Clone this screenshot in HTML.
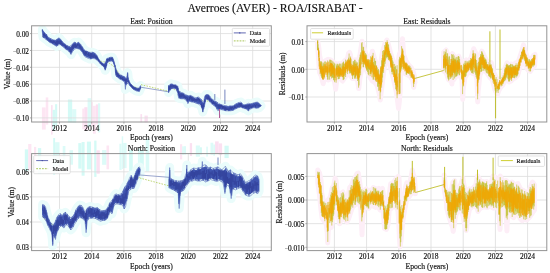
<!DOCTYPE html>
<html><head><meta charset="utf-8"><style>
html,body{margin:0;padding:0;background:#fff;width:550px;height:273px;overflow:hidden}
svg text{font-family:"Liberation Serif", serif;stroke:#111;stroke-width:0.15px}
</style></head><body>
<svg width="550" height="273" viewBox="0 0 550 273" style="position:absolute;left:0;top:0;will-change:transform">
<text x="275" y="11.7" font-size="11.65" text-anchor="middle" fill="#111">Averroes (AVER) - ROA/ISRABAT -</text>
<rect x="41.9" y="107.4" width="3.8" height="22.2" fill="#fde6f3"/><rect x="45.7" y="97.4" width="2.6" height="27.2" fill="#fde6f3"/><rect x="51.1" y="105.1" width="1.5" height="29.5" fill="#fbe0f1"/><rect x="52.6" y="109.8" width="2.5" height="21.0" fill="#d4faf6"/><rect x="55.1" y="104.2" width="2.1" height="21.4" fill="#d4faf6"/><rect x="67.9" y="99.5" width="4.3" height="22.9" fill="#d4faf6"/><rect x="72.2" y="109.2" width="4.1" height="13.5" fill="#dcfbf8"/><rect x="82.3" y="108.6" width="2.1" height="20.6" fill="#fde6f3"/><rect x="84.3" y="107.2" width="3.3" height="23.3" fill="#fbe0f1"/><rect x="87.6" y="98.2" width="3.5" height="28.8" fill="#dcfbf8"/><rect x="91.1" y="102.1" width="1.8" height="23.9" fill="#fde6f3"/><rect x="92.9" y="105.8" width="2.9" height="27.9" fill="#fde6f3"/><rect x="95.8" y="104.4" width="2.2" height="19.9" fill="#fbe0f1"/><rect x="98.0" y="103.3" width="2.2" height="29.1" fill="#dcfbf8"/>
<rect x="140.4" y="114.1" width="1.7" height="8.1" fill="#fbe0f1"/><rect x="144.5" y="115.6" width="3.3" height="6.8" fill="#fbe0f1"/>
<rect x="24.8" y="149.4" width="3.4" height="21.7" fill="#d4faf6"/><rect x="28.2" y="144.0" width="3.2" height="26.0" fill="#fde6f3"/><rect x="34.0" y="146.9" width="2.2" height="21.2" fill="#fde6f3"/><rect x="37.9" y="148.1" width="3.3" height="25.9" fill="#d4faf6"/><rect x="53.2" y="138.0" width="1.9" height="36.8" fill="#d4faf6"/><rect x="55.1" y="142.2" width="4.4" height="23.6" fill="#dcfbf8"/><rect x="62.7" y="146.0" width="2.7" height="18.3" fill="#dcfbf8"/><rect x="69.5" y="150.2" width="3.5" height="14.5" fill="#dcfbf8"/><rect x="78.3" y="143.1" width="3.2" height="25.5" fill="#d4faf6"/><rect x="81.6" y="142.0" width="3.0" height="33.7" fill="#d4faf6"/><rect x="86.9" y="141.6" width="4.1" height="27.8" fill="#d4faf6"/><rect x="94.2" y="140.6" width="2.3" height="36.3" fill="#d4faf6"/><rect x="96.5" y="150.3" width="3.3" height="23.4" fill="#fbe0f1"/><rect x="102.1" y="150.1" width="4.4" height="14.7" fill="#dcfbf8"/><rect x="106.5" y="145.5" width="2.6" height="23.8" fill="#fde6f3"/><rect x="119.4" y="143.7" width="2.2" height="26.3" fill="#dcfbf8"/><rect x="121.7" y="136.3" width="1.5" height="32.7" fill="#dcfbf8"/><rect x="123.2" y="142.9" width="3.4" height="25.2" fill="#dcfbf8"/><rect x="129.1" y="150.0" width="3.7" height="27.7" fill="#d4faf6"/><rect x="137.9" y="148.4" width="2.0" height="25.7" fill="#dcfbf8"/><rect x="139.9" y="150.3" width="3.9" height="17.7" fill="#d4faf6"/><rect x="145.7" y="138.8" width="3.5" height="32.8" fill="#dcfbf8"/>
<rect x="180.0" y="144.2" width="2.2" height="15.2" fill="#fde6f3"/><rect x="182.2" y="146.3" width="1.6" height="8.6" fill="#dcfbf8"/><rect x="183.8" y="146.2" width="2.2" height="8.3" fill="#dcfbf8"/><rect x="189.8" y="143.1" width="2.3" height="12.8" fill="#fbe0f1"/><rect x="195.8" y="145.5" width="4.1" height="11.2" fill="#dcfbf8"/><rect x="199.9" y="147.3" width="2.0" height="7.3" fill="#d4faf6"/><rect x="206.3" y="146.6" width="1.5" height="10.0" fill="#dcfbf8"/><rect x="210.5" y="142.7" width="2.8" height="12.0" fill="#dcfbf8"/><rect x="213.3" y="144.5" width="1.7" height="11.2" fill="#dcfbf8"/><rect x="215.1" y="141.4" width="3.6" height="12.5" fill="#fbe0f1"/><rect x="218.7" y="143.4" width="3.4" height="11.7" fill="#fbe0f1"/><rect x="224.5" y="145.7" width="4.2" height="12.4" fill="#d4faf6"/>
<clipPath id="cTL"><rect x="31.6" y="25.8" width="239.70000000000002" height="96.2"/></clipPath>
<path d="M59.50 25.8V122.0M91.70 25.8V122.0M123.90 25.8V122.0M156.10 25.8V122.0M188.30 25.8V122.0M220.50 25.8V122.0M252.70 25.8V122.0M31.6 33.60H271.3M31.6 50.46H271.3M31.6 67.32H271.3M31.6 84.18H271.3M31.6 101.04H271.3M31.6 117.90H271.3" stroke="#dcdcdc" stroke-width="0.8" fill="none"/>
<g clip-path="url(#cTL)"><path d="M42.4 29.5L43.6 31.6L46.7 34.7L48.0 37.2L50.5 38.5L52.9 39.7L55.4 40.3L57.9 38.5L59.2 37.8L60.4 39.1L62.3 41.6L64.2 43.4L66.6 45.3L69.1 46.5L71.0 45.9L72.9 43.4L74.7 42.2L76.6 43.4L78.5 42.2L80.3 44.1L82.2 46.5L83.5 49.0L85.9 50.9L90.0 52.4L92.5 52.2L95.0 53.4L96.8 55.3L98.7 59.1L101.2 62.2L103.7 64.1L105.6 62.2L106.8 58.5L108.7 57.8L110.5 57.2L112.4 57.2L113.7 60.3L114.9 64.7L116.2 69.5L117.4 72.0L118.8 74.0L121.7 75.5L124.7 77.0L126.8 78.5L127.3 74.0L127.6 72.6L127.9 74.0L128.3 79.0L130.5 83.6L133.4 86.5L136.4 88.0L139.3 88.2L140.6 85.5L140.6 88.5L139.3 91.6L136.4 91.0L133.4 89.4L130.5 86.5L127.6 82.8L125.7 86.0L125.4 89.4L125.1 86.0L124.7 82.0L121.7 80.0L118.8 78.4L115.9 76.0L114.9 67.2L113.0 61.6L111.2 60.9L109.3 61.6L107.4 62.2L106.2 67.2L105.2 70.3L104.3 67.2L102.5 65.9L100.0 63.4L97.5 60.5L95.0 58.7L92.5 58.5L90.0 59.0L89.1 58.5L86.6 57.5L84.7 56.5L83.5 54.5L81.6 51.0L79.1 49.0L76.6 48.4L74.7 49.0L72.9 50.9L71.0 54.6L69.8 52.2L67.3 50.3L64.8 48.4L62.9 46.5L60.4 44.7L58.5 44.7L56.7 46.5L54.2 44.7L51.7 43.4L49.2 42.2L47.3 40.3L44.8 38.5L43.0 37.2L42.4 32.2ZM168.6 85.7L171.1 83.8L173.6 84.5L176.1 85.1L177.9 86.3L178.6 90.7L181.1 92.5L183.5 93.2L186.0 95.0L188.5 95.7L191.0 95.3L193.5 97.1L196.0 97.7L198.5 97.1L201.0 98.9L203.4 102.7L204.7 96.5L205.9 94.6L208.4 94.6L210.9 97.7L213.4 100.2L215.9 101.4L218.4 103.3L220.9 104.5L223.4 105.2L225.9 105.8L228.3 106.4L230.8 105.8L233.3 105.8L235.8 103.9L238.3 102.7L240.8 102.1L243.3 104.5L245.8 104.5L248.3 103.3L250.8 103.9L253.9 102.7L257.3 102.0L259.8 103.9L261.0 105.8L261.0 105.8L259.2 107.7L257.3 108.3L253.9 107.7L250.8 108.9L248.3 110.8L245.8 108.9L243.3 108.3L240.8 107.0L238.3 107.7L235.8 108.9L233.3 110.2L230.8 110.8L228.3 110.8L225.9 110.8L223.4 110.2L220.9 109.5L217.8 110.8L215.9 107.0L213.4 105.2L210.9 103.3L208.4 100.2L205.9 98.9L204.0 108.3L203.4 109.5L202.8 112.0L202.3 109.0L201.0 106.4L198.5 103.9L196.0 103.3L194.8 102.5L192.3 102.2L189.8 101.3L188.6 102.0L187.9 103.8L187.3 102.0L186.0 100.1L183.5 98.8L181.1 98.8L178.6 98.2L177.9 93.2L176.1 88.8L173.6 88.2L171.1 88.8L168.6 92.5Z" fill="#eafcfb" stroke="#eafcfb" stroke-width="9" stroke-linejoin="round"/><path d="M42.4 36.4L43.4 36.9L44.4 37.3L45.4 37.7L46.4 38.1L47.4 38.4L48.4 38.7L49.4 39.0L50.4 39.8L51.4 40.3L52.4 40.7L53.4 41.0L54.4 41.4L55.4 41.8L56.4 42.2L57.4 42.3L58.4 42.7L59.4 43.1L60.4 43.5L61.4 43.9L62.4 44.4L63.4 44.8L64.4 45.8L65.4 46.3L66.4 46.7L67.4 46.9L68.4 47.1L69.4 47.3L70.4 47.3L71.4 47.2L72.4 47.3L73.4 47.3L74.4 47.3L75.4 47.4L76.4 47.6L77.4 47.9L78.4 48.2L79.4 48.5L80.4 48.9L81.4 49.5L82.4 50.1L83.4 50.8L84.4 51.4L85.4 52.0L86.4 52.7L87.4 53.4L88.4 54.0L89.4 54.6L90.4 55.2L91.4 55.7L92.4 56.3L93.4 56.9L94.4 57.5L95.4 58.2L96.4 58.8L97.4 59.5L98.4 60.2L99.4 60.7L100.4 61.0L101.4 61.3L102.4 61.6L103.4 61.8L104.4 61.9L105.4 61.9L106.4 62.0L107.4 62.2L108.4 62.6L109.4 63.3L110.4 64.0L111.4 64.7L112.4 65.4L113.4 66.1L114.4 67.1L115.4 68.3L116.4 69.6L117.4 70.9L118.4 72.5L119.4 74.0L120.4 75.3L121.4 76.6L122.4 77.9L123.4 78.9L124.4 79.8L125.4 80.6L126.4 81.4L127.4 82.2L128.4 83.0L129.4 83.8L130.4 84.6L131.4 85.3L132.4 86.0L133.4 86.3L134.4 86.6L135.4 87.2L136.4 87.7L137.4 88.1L138.4 88.4L139.4 88.7L140.4 88.9M168.6 87.0L169.6 87.1L170.6 87.3L171.6 88.0L172.6 88.6L173.6 89.1L174.6 89.6L175.6 90.0L176.6 90.4L177.6 91.0L178.6 91.7L179.6 92.5L180.6 93.4L181.6 94.2L182.6 95.0L183.6 95.8L184.6 96.5L185.6 97.2L186.6 97.5L187.6 97.9L188.6 98.2L189.6 98.5L190.6 98.8L191.6 99.1L192.6 99.4L193.6 99.8L194.6 100.1L195.6 100.6L196.6 101.0L197.6 101.2L198.6 101.2L199.6 101.0L200.6 100.9L201.6 100.8L202.6 100.7L203.6 100.7L204.6 100.7L205.6 100.8L206.6 101.0L207.6 101.1L208.6 101.2L209.6 101.3L210.6 101.3L211.6 101.4L212.6 101.8L213.6 102.5L214.6 103.1L215.6 103.8L216.6 104.5L217.6 105.1L218.6 105.6L219.6 106.1L220.6 106.6L221.6 106.9L222.6 107.3L223.6 107.6L224.6 107.8L225.6 107.9L226.6 107.9L227.6 107.9L228.6 107.9L229.6 107.8L230.6 107.7L231.6 107.5L232.6 107.3L233.6 107.1L234.6 106.9L235.6 106.7L236.6 106.5L237.6 106.4L238.6 106.3L239.6 106.2L240.6 106.1L241.6 106.1L242.6 106.1L243.6 106.0L244.6 106.1L245.6 106.1L246.6 106.1L247.6 106.1L248.6 106.1L249.6 106.2L250.6 106.2L251.6 106.1L252.6 106.0L253.6 105.9L254.6 105.8L255.6 105.7L256.6 105.5L257.6 105.4L258.6 105.4L259.6 105.3L260.6 105.3" stroke="#b8d26a" stroke-width="0.9" stroke-dasharray="1.6 1.2" fill="none"/><path d="M141.0 84.6L168.0 91.2" stroke="#b8d26a" stroke-width="0.9" stroke-dasharray="1.6 1.2" fill="none"/><path d="M140.6 87.2L168.6 91.8" stroke="#7080b8" stroke-width="0.7" fill="none"/><path d="M42.4 29.5V31.8M43.0 31.1V37.4M43.6 31.4V37.7M44.2 32.2V38.1M44.8 33.3V38.0M45.4 35.7V37.3M46.0 34.0V39.5M46.6 34.4V39.2M47.2 36.1V40.3M47.8 37.4V40.9M48.4 37.6V40.6M49.0 37.6V41.9M49.6 38.8V40.6M50.2 38.3V42.8M50.8 38.4V42.2M51.4 40.2V42.7M52.0 39.6V42.6M52.6 39.6V44.1M53.2 40.1V43.1M53.8 39.9V44.7M54.4 40.0V45.1M55.0 40.1V45.4M55.6 40.0V45.5M56.2 41.2V46.2M56.8 39.2V43.6M57.4 38.8V45.9M58.0 39.2V45.3M58.6 38.2V42.3M59.2 38.2V43.6M59.8 40.3V43.0M60.4 39.2V44.9M61.0 39.9V45.1M61.6 40.8V45.6M62.2 41.3V46.3M62.8 42.6V46.5M63.4 42.8V46.0M64.0 43.3V47.6M64.6 43.8V47.0M65.2 43.9V48.3M65.8 45.1V49.1M66.4 46.3V49.7M67.0 45.2V49.9M67.6 45.8V49.6M68.2 47.3V49.9M68.8 46.2V51.3M69.4 46.3V52.1M70.0 48.6V50.5M70.6 49.0V53.8M71.2 45.6V53.3M71.8 47.1V52.1M72.4 43.8V49.4M73.0 44.8V51.0M73.6 42.9V47.3M74.2 42.5V48.2M74.8 42.2V46.9M75.4 42.4V46.4M76.0 43.0V48.6M76.6 45.3V48.3M77.2 43.0V47.1M77.8 42.6V48.8M78.4 42.2V49.1M79.0 42.8V48.6M79.6 43.4V49.1M80.2 44.5V49.6M80.8 44.5V50.5M81.4 46.4V50.9M82.0 46.5V51.9M82.6 47.2V51.7M83.2 48.7V52.1M83.8 49.8V54.8M84.4 49.9V55.9M85.0 51.1V54.2M85.6 51.0V55.2M86.2 50.9V57.4M86.8 51.0V56.3M87.4 51.2V56.9M88.0 53.4V58.3M88.6 52.0V55.8M89.2 52.0V58.1M89.8 52.3V57.6M90.4 52.9V59.0M91.0 53.0V59.1M91.6 53.5V58.8M92.2 52.0V58.5M92.8 52.3V56.9M93.4 52.3V58.2M94.0 52.9V57.8M94.6 52.9V58.2M95.2 53.3V59.1M95.8 54.4V59.1M96.4 54.9V59.4M97.0 55.7V60.2M97.6 56.9V59.9M98.2 58.3V61.2M98.8 59.3V61.6M99.4 59.8V61.7M100.0 61.3V63.5M100.6 61.4V63.9M101.2 62.0V64.4M101.8 62.7V65.2M102.4 62.9V65.8M103.0 63.3V65.6M103.6 64.0V66.8M104.2 63.5V67.4M104.8 65.3V69.2M105.4 62.4V69.8M106.0 61.3V67.9M106.6 59.0V65.7M107.2 58.3V63.0M107.8 58.4V61.4M108.4 58.4V61.8M109.0 59.4V61.1M109.6 57.2V60.4M110.2 57.8V61.4M110.8 57.2V60.3M111.4 57.3V60.6M112.0 57.2V61.3M112.6 57.4V61.3M113.2 59.3V62.0M113.8 61.2V63.9M114.4 63.3V65.2M115.0 65.0V67.5M115.6 68.2V73.0M116.2 69.7V74.9M116.8 71.6V76.8M117.4 73.0V76.7M118.0 72.8V77.2M118.6 74.4V78.0M119.2 74.5V77.2M119.8 76.1V79.1M120.4 75.7V79.1M121.0 74.8V79.8M121.6 75.3V78.2M122.2 76.8V79.1M122.8 75.8V80.4M123.4 76.2V80.9M124.0 76.5V81.7M124.6 76.7V80.5M125.2 80.7V83.8M125.8 78.0V82.4M126.4 78.3V84.7M127.0 76.4V84.0M127.6 72.6V82.0M128.2 77.6V81.9M128.8 80.3V82.9M129.4 82.0V84.5M130.0 83.1V85.8M130.6 84.7V86.5M131.2 84.1V86.1M131.8 85.2V87.6M132.4 85.5V88.7M133.0 86.3V88.3M133.6 86.7V89.5M134.2 87.0V89.9M134.8 87.2V89.6M135.4 87.5V90.5M136.0 87.7V89.6M136.6 88.0V90.2M137.2 88.0V91.2M137.8 89.1V90.3M138.4 87.9V90.5M139.0 88.6V91.7M139.6 88.2V89.6M140.2 86.3V89.4M168.6 85.4V92.7M169.2 85.2V88.8M169.8 85.5V90.5M170.4 84.1V89.9M171.0 83.8V89.0M171.6 84.1V89.0M172.2 83.9V88.6M172.8 84.2V88.3M173.4 85.6V88.3M174.0 85.9V88.6M174.6 84.9V87.3M175.2 84.7V88.8M175.8 84.8V88.4M176.4 86.4V89.6M177.0 86.0V91.3M177.6 86.4V92.5M178.2 88.1V95.4M178.8 90.8V95.8M179.4 91.5V97.6M180.0 91.5V98.4M180.6 93.5V98.8M181.2 92.5V98.6M181.8 93.3V98.8M182.4 92.7V98.9M183.0 93.3V96.4M183.6 93.2V98.8M184.2 94.8V96.9M184.8 95.6V97.8M185.4 96.5V97.7M186.0 94.7V99.8M186.6 95.7V100.6M187.2 95.1V101.5M187.8 95.7V102.1M188.4 95.8V102.5M189.0 96.0V100.8M189.6 96.3V101.4M190.2 95.1V100.3M190.8 96.5V101.8M191.4 96.7V102.1M192.0 97.9V100.2M192.6 96.4V102.0M193.2 96.8V100.9M193.8 97.6V101.2M194.4 98.8V102.6M195.0 98.9V102.7M195.6 99.0V101.2M196.2 99.0V103.3M196.8 97.8V101.9M197.4 97.1V103.7M198.0 96.9V103.8M198.6 98.8V104.2M199.2 97.8V102.0M199.8 99.5V103.5M200.4 100.4V104.3M201.0 99.0V104.9M201.6 102.4V107.8M202.2 102.2V108.6M202.8 105.0V112.2M203.4 104.6V109.3M204.0 102.6V107.1M204.6 99.0V103.9M205.2 95.8V102.2M205.8 95.1V98.6M206.4 94.5V99.1M207.0 95.8V99.5M207.6 94.4V99.8M208.2 94.9V98.8M208.8 94.9V99.7M209.4 96.1V99.3M210.0 96.5V102.0M210.6 98.6V101.3M211.2 98.6V101.6M211.8 100.1V103.4M212.4 99.5V103.1M213.0 99.7V104.6M213.6 101.6V103.4M214.2 102.5V105.9M214.8 101.8V105.4M215.4 101.4V106.8M216.0 101.4V106.5M216.6 103.0V108.6M217.2 102.1V109.4M217.8 106.1V107.2M218.4 104.0V107.5M219.0 106.0V109.9M219.6 103.8V110.0M220.2 105.5V109.0M220.8 104.2V107.9M221.4 104.6V109.6M222.0 105.2V109.3M222.6 105.9V109.5M223.2 106.5V108.8M223.8 105.8V109.6M224.4 105.8V110.5M225.0 105.7V110.6M225.6 106.6V111.0M226.2 105.6V109.8M226.8 106.6V109.3M227.4 106.2V110.0M228.0 106.1V110.1M228.6 106.6V111.1M229.2 106.0V110.9M229.8 105.7V111.0M230.4 105.9V110.2M231.0 107.4V110.8M231.6 106.4V109.9M232.2 106.1V110.6M232.8 105.8V110.5M233.4 106.4V110.2M234.0 105.2V109.4M234.6 104.6V108.7M235.2 105.4V108.0M235.8 104.0V109.0M236.4 103.5V108.5M237.0 103.9V107.1M237.6 103.5V107.8M238.2 103.8V107.8M238.8 102.4V107.0M239.4 103.1V107.5M240.0 104.4V107.4M240.6 103.3V107.1M241.2 102.4V106.0M241.8 103.1V107.4M242.4 104.7V108.1M243.0 105.5V108.0M243.6 104.6V107.9M244.2 106.2V108.2M244.8 105.1V108.7M245.4 104.4V109.0M246.0 105.4V107.4M246.6 104.3V108.6M247.2 104.2V109.0M247.8 104.0V110.2M248.4 105.2V111.0M249.0 103.8V108.1M249.6 104.0V109.1M250.2 103.7V108.3M250.8 103.9V108.3M251.4 103.4V108.4M252.0 104.2V107.6M252.6 103.5V107.6M253.2 103.0V108.0M253.8 102.9V106.9M254.4 103.8V107.7M255.0 102.7V107.4M255.6 102.4V108.1M256.2 102.5V108.4M256.8 102.1V108.0M257.4 102.4V107.8M258.0 102.7V107.8M258.6 102.9V107.7M259.2 103.7V106.2M259.8 105.2V106.3M260.4 104.6V106.5M261.0 105.4V106.0" stroke="#3f55b0" stroke-width="0.8" fill="none"/><path d="M42.4 29.8L43.6 32.3L46.7 35.3L48.0 37.7L50.5 39.0L52.9 40.2L55.4 40.9L57.9 39.3L59.2 38.6L60.4 39.8L62.3 42.1L64.2 43.9L66.6 45.8L69.1 47.1L71.0 46.9L72.9 44.3L74.7 43.0L76.6 44.0L78.5 43.0L80.3 44.8L82.2 47.2L83.5 49.7L85.9 51.6L90.0 53.2L92.5 53.0L95.0 54.0L96.8 55.9L98.7 59.4L101.2 62.5L103.7 64.4L105.6 63.0L106.8 59.2L108.7 58.3L110.5 57.7L112.4 57.7L113.7 60.7L114.9 65.0L116.2 70.3L117.4 72.6L118.8 74.5L121.7 76.0L124.7 77.6L126.8 79.2L127.3 75.1L127.6 73.8L127.9 75.1L128.3 79.6L130.5 83.9L133.4 86.8L136.4 88.4L139.3 88.6L140.6 85.9L140.6 88.1L139.3 91.2L136.4 90.6L133.4 89.1L130.5 86.2L127.6 81.6L125.7 85.0L125.4 88.0L125.1 85.0L124.7 81.4L121.7 79.5L118.8 77.9L115.9 75.1L114.9 66.9L113.0 61.2L111.2 60.5L109.3 61.1L107.4 61.7L106.2 66.4L105.2 69.4L104.3 66.8L102.5 65.6L100.0 63.1L97.5 60.0L95.0 58.1L92.5 57.7L90.0 58.2L89.1 57.7L86.6 56.7L84.7 55.7L83.5 53.8L81.6 50.4L79.1 48.3L76.6 47.8L74.7 48.2L72.9 50.0L71.0 53.6L69.8 51.5L67.3 49.7L64.8 47.9L62.9 46.0L60.4 44.0L58.5 43.9L56.7 45.6L54.2 44.1L51.7 42.9L49.2 41.7L47.3 39.8L44.8 37.8L43.0 36.4L42.4 31.9ZM168.6 86.5L171.1 84.4L173.6 84.9L176.1 85.5L177.9 87.1L178.6 91.6L181.1 93.3L183.5 93.9L186.0 95.6L188.5 96.5L191.0 96.1L193.5 97.7L196.0 98.4L198.5 97.9L201.0 99.8L203.4 103.5L204.7 97.5L205.9 95.1L208.4 95.3L210.9 98.4L213.4 100.8L215.9 102.1L218.4 104.2L220.9 105.1L223.4 105.8L225.9 106.4L228.3 106.9L230.8 106.4L233.3 106.3L235.8 104.5L238.3 103.3L240.8 102.7L243.3 105.0L245.8 105.0L248.3 104.2L250.8 104.5L253.9 103.3L257.3 102.8L259.8 104.3L261.0 105.8L261.0 105.8L259.2 107.2L257.3 107.5L253.9 107.1L250.8 108.3L248.3 109.9L245.8 108.4L243.3 107.8L240.8 106.4L238.3 107.1L235.8 108.3L233.3 109.7L230.8 110.2L228.3 110.3L225.9 110.2L223.4 109.6L220.9 108.9L217.8 109.8L215.9 106.3L213.4 104.6L210.9 102.6L208.4 99.5L205.9 98.4L204.0 107.3L203.4 108.7L202.8 110.8L202.3 108.0L201.0 105.5L198.5 103.1L196.0 102.6L194.8 101.9L192.3 101.5L189.8 100.6L188.6 101.2L187.9 102.8L187.3 101.2L186.0 99.5L183.5 98.1L181.1 98.0L178.6 97.3L177.9 92.4L176.1 88.4L173.6 87.8L171.1 88.2L168.6 91.7Z" fill="#3f55b0" stroke="none"/><path d="M42.4 30.3V30.9M43.5 33.9V35.6M44.6 33.0V36.2M45.7 35.1V36.7M46.8 36.1V39.4M47.9 38.7V39.4M49.0 39.8V40.7M50.1 39.7V42.1M51.2 40.1V42.6M52.3 41.3V43.4M53.4 40.3V43.3M54.5 41.2V42.8M55.6 41.9V44.2M56.7 40.5V45.6M57.8 40.5V44.7M58.9 41.1V43.4M60.0 40.4V44.2M61.1 41.0V44.3M62.2 43.2V45.5M63.3 44.5V45.6M64.4 44.6V45.8M65.5 45.4V48.3M66.6 45.7V47.8M67.7 47.9V48.7M68.8 48.7V49.3M69.9 48.3V52.0M71.0 48.7V52.3M72.1 45.3V49.5M73.2 44.7V48.5M74.3 44.2V46.8M75.4 43.7V47.6M76.5 45.3V47.2M77.6 43.9V45.8M78.7 44.4V45.5M79.8 44.6V47.7M80.9 46.3V48.7M82.0 48.4V50.4M83.1 49.8V53.4M84.2 52.7V54.1M85.3 51.2V55.1M86.4 51.5V54.4M87.5 54.4V55.0M88.6 52.4V55.9M89.7 54.5V56.2M90.8 52.9V58.0M91.9 53.2V56.8M93.0 55.5V58.1M94.1 54.1V56.3M95.2 55.5V57.9M96.3 56.1V58.4M97.4 56.9V59.1M98.5 59.1V61.1M99.6 61.3V62.4M100.7 62.3V63.3M101.8 63.0V64.8M102.9 64.1V64.8M104.0 64.6V66.5M105.1 65.6V68.6M106.2 63.0V66.1M107.3 58.9V62.4M108.4 59.0V60.1M109.5 58.1V61.2M110.6 58.6V59.2M111.7 58.0V59.2M112.8 58.5V60.0M113.9 62.2V62.9M115.0 65.6V66.7M116.1 70.2V74.6M117.2 72.3V76.6M118.3 73.7V76.8M119.4 75.0V76.6M120.5 76.6V78.7M121.6 77.6V79.2M122.7 77.0V80.0M123.8 78.6V80.2M124.9 79.3V80.9M126.0 79.0V83.5M127.1 78.5V79.7M128.2 80.3V82.1M129.3 82.8V83.4M130.4 83.7V86.0M131.5 84.8V86.8M132.6 86.3V88.1M133.7 87.3V88.6M134.8 87.5V89.2M135.9 88.8V89.7M137.0 89.7V90.8M138.1 88.9V90.0M139.2 89.7V90.3M140.3 86.9V88.5M168.6 86.6V91.3M169.7 86.4V89.4M170.8 84.8V87.4M171.9 85.7V86.5M173.0 84.9V86.8M174.1 85.2V86.6M175.2 85.4V88.2M176.3 85.9V88.1M177.4 87.7V90.2M178.5 90.8V94.1M179.6 93.9V97.7M180.7 94.5V97.3M181.8 93.3V96.9M182.9 94.2V96.3M184.0 94.0V98.5M185.1 96.1V98.8M186.2 96.9V98.1M187.3 97.3V101.3M188.4 98.8V99.7M189.5 96.8V100.2M190.6 96.0V98.9M191.7 96.5V100.3M192.8 98.2V101.5M193.9 98.9V101.0M195.0 98.7V100.5M196.1 98.9V101.5M197.2 98.9V100.8M198.3 98.0V100.5M199.4 98.9V101.7M200.5 101.4V102.2M201.6 103.5V106.9M202.7 105.1V110.5M203.8 103.1V107.2M204.9 99.9V102.2M206.0 95.8V96.8M207.1 97.0V99.2M208.2 95.4V99.5M209.3 97.7V100.7M210.4 99.4V100.2M211.5 99.7V101.7M212.6 101.9V103.9M213.7 100.8V103.9M214.8 102.4V104.0M215.9 103.3V106.6M217.0 105.3V105.9M218.1 104.7V107.9M219.2 104.7V109.5M220.3 104.5V107.7M221.4 105.0V107.2M222.5 105.7V108.7M223.6 106.0V108.6M224.7 106.9V109.5M225.8 106.7V110.4M226.9 108.2V110.2M228.0 108.7V110.1M229.1 108.3V110.4M230.2 106.6V109.1M231.3 106.5V109.8M232.4 106.6V108.4M233.5 107.8V108.7M234.6 105.7V108.0M235.7 106.5V108.0M236.8 105.6V106.2M237.9 105.3V107.3M239.0 103.6V105.2M240.1 102.9V106.6M241.2 103.2V106.6M242.3 105.4V107.4M243.4 105.9V107.0M244.5 105.8V106.9M245.6 105.3V108.2M246.7 105.3V108.1M247.8 105.3V107.4M248.9 104.4V109.5M250.0 104.7V106.6M251.1 106.2V108.1M252.2 105.3V107.6M253.3 105.4V106.6M254.4 104.3V105.6M255.5 104.8V107.4M256.6 104.4V105.4M257.7 104.7V105.3M258.8 105.1V106.5M259.9 105.3V106.4M261.0 105.5V106.1" stroke="#2e3b94" stroke-width="0.7" fill="none"/><path d="M42.4 29.5L43.6 31.6L46.7 34.7L48.0 37.2L50.5 38.5L52.9 39.7L55.4 40.3L57.9 38.5L59.2 37.8L60.4 39.1L62.3 41.6L64.2 43.4L66.6 45.3L69.1 46.5L71.0 45.9L72.9 43.4L74.7 42.2L76.6 43.4L78.5 42.2L80.3 44.1L82.2 46.5L83.5 49.0L85.9 50.9L90.0 52.4L92.5 52.2L95.0 53.4L96.8 55.3L98.7 59.1L101.2 62.2L103.7 64.1L105.6 62.2L106.8 58.5L108.7 57.8L110.5 57.2L112.4 57.2L113.7 60.3L114.9 64.7L116.2 69.5L117.4 72.0L118.8 74.0L121.7 75.5L124.7 77.0L126.8 78.5L127.3 74.0L127.6 72.6L127.9 74.0L128.3 79.0L130.5 83.6L133.4 86.5L136.4 88.0L139.3 88.2L140.6 85.5L140.6 88.5L139.3 91.6L136.4 91.0L133.4 89.4L130.5 86.5L127.6 82.8L125.7 86.0L125.4 89.4L125.1 86.0L124.7 82.0L121.7 80.0L118.8 78.4L115.9 76.0L114.9 67.2L113.0 61.6L111.2 60.9L109.3 61.6L107.4 62.2L106.2 67.2L105.2 70.3L104.3 67.2L102.5 65.9L100.0 63.4L97.5 60.5L95.0 58.7L92.5 58.5L90.0 59.0L89.1 58.5L86.6 57.5L84.7 56.5L83.5 54.5L81.6 51.0L79.1 49.0L76.6 48.4L74.7 49.0L72.9 50.9L71.0 54.6L69.8 52.2L67.3 50.3L64.8 48.4L62.9 46.5L60.4 44.7L58.5 44.7L56.7 46.5L54.2 44.7L51.7 43.4L49.2 42.2L47.3 40.3L44.8 38.5L43.0 37.2L42.4 32.2ZM168.6 85.7L171.1 83.8L173.6 84.5L176.1 85.1L177.9 86.3L178.6 90.7L181.1 92.5L183.5 93.2L186.0 95.0L188.5 95.7L191.0 95.3L193.5 97.1L196.0 97.7L198.5 97.1L201.0 98.9L203.4 102.7L204.7 96.5L205.9 94.6L208.4 94.6L210.9 97.7L213.4 100.2L215.9 101.4L218.4 103.3L220.9 104.5L223.4 105.2L225.9 105.8L228.3 106.4L230.8 105.8L233.3 105.8L235.8 103.9L238.3 102.7L240.8 102.1L243.3 104.5L245.8 104.5L248.3 103.3L250.8 103.9L253.9 102.7L257.3 102.0L259.8 103.9L261.0 105.8L261.0 105.8L259.2 107.7L257.3 108.3L253.9 107.7L250.8 108.9L248.3 110.8L245.8 108.9L243.3 108.3L240.8 107.0L238.3 107.7L235.8 108.9L233.3 110.2L230.8 110.8L228.3 110.8L225.9 110.8L223.4 110.2L220.9 109.5L217.8 110.8L215.9 107.0L213.4 105.2L210.9 103.3L208.4 100.2L205.9 98.9L204.0 108.3L203.4 109.5L202.8 112.0L202.3 109.0L201.0 106.4L198.5 103.9L196.0 103.3L194.8 102.5L192.3 102.2L189.8 101.3L188.6 102.0L187.9 103.8L187.3 102.0L186.0 100.1L183.5 98.8L181.1 98.8L178.6 98.2L177.9 93.2L176.1 88.8L173.6 88.2L171.1 88.8L168.6 92.5Z" stroke="#3f55b0" stroke-width="0.5" fill="none" stroke-linejoin="round"/><path d="M214.8 100.0L214.8 94.0" stroke="#6878b8" stroke-width="0.9"/><path d="M224.9 104.0L224.9 89.6" stroke="#6878b8" stroke-width="0.9"/><path d="M219.5 109.0L219.5 118.0" stroke="#b0609a" stroke-width="1"/></g>
<rect x="31.6" y="25.8" width="239.70" height="96.20" fill="none" stroke="#939393" stroke-width="1.0"/>
<text x="59.50" y="130.60" font-size="7.5" text-anchor="middle" fill="#111">2012</text>
<text x="91.70" y="130.60" font-size="7.5" text-anchor="middle" fill="#111">2014</text>
<text x="123.90" y="130.60" font-size="7.5" text-anchor="middle" fill="#111">2016</text>
<text x="156.10" y="130.60" font-size="7.5" text-anchor="middle" fill="#111">2018</text>
<text x="188.30" y="130.60" font-size="7.5" text-anchor="middle" fill="#111">2020</text>
<text x="220.50" y="130.60" font-size="7.5" text-anchor="middle" fill="#111">2022</text>
<text x="252.70" y="130.60" font-size="7.5" text-anchor="middle" fill="#111">2024</text>
<text x="29.00" y="36.80" font-size="7.3" text-anchor="end" fill="#111">0.00</text>
<text x="29.00" y="53.66" font-size="7.3" text-anchor="end" fill="#111"><tspan font-size="5.6" dy="-0.9">−</tspan><tspan dy="0.9">0.02</tspan></text>
<text x="29.00" y="70.52" font-size="7.3" text-anchor="end" fill="#111"><tspan font-size="5.6" dy="-0.9">−</tspan><tspan dy="0.9">0.04</tspan></text>
<text x="29.00" y="87.38" font-size="7.3" text-anchor="end" fill="#111"><tspan font-size="5.6" dy="-0.9">−</tspan><tspan dy="0.9">0.06</tspan></text>
<text x="29.00" y="104.24" font-size="7.3" text-anchor="end" fill="#111"><tspan font-size="5.6" dy="-0.9">−</tspan><tspan dy="0.9">0.08</tspan></text>
<text x="29.00" y="121.10" font-size="7.3" text-anchor="end" fill="#111"><tspan font-size="5.6" dy="-0.9">−</tspan><tspan dy="0.9">0.10</tspan></text>
<path d="M59.50 122.0v1.6M91.70 122.0v1.6M123.90 122.0v1.6M156.10 122.0v1.6M188.30 122.0v1.6M220.50 122.0v1.6M252.70 122.0v1.6M31.6 33.60h-1.6M31.6 50.46h-1.6M31.6 67.32h-1.6M31.6 84.18h-1.6M31.6 101.04h-1.6M31.6 117.90h-1.6" stroke="#939393" stroke-width="0.8"/>
<text x="151.45" y="23.50" font-size="7.7" text-anchor="middle" fill="#111">East: Position</text>
<text x="151.45" y="140.30" font-size="7.7" text-anchor="middle" fill="#111">Epoch (years)</text>
<text transform="translate(10.1,73.90) rotate(-90)" font-size="7.7" text-anchor="middle" fill="#111">Value (m)</text>
<rect x="232.3" y="28.4" width="37.2" height="17.8" rx="1" fill="#fff" fill-opacity="0.85" stroke="#d6d6d6" stroke-width="0.7"/><path d="M233.8 32.9H245.8" stroke="#3b44a0" stroke-width="0.8"/><circle cx="239.8" cy="32.9" r="0.7" fill="#3b44a0"/><text x="249.8" y="35.0" font-size="6.1" fill="#222">Data</text><path d="M233.8 40.9H245.8" stroke="#a9c558" stroke-width="1" stroke-dasharray="1.8 1.1"/><text x="249.8" y="43.0" font-size="6.1" fill="#222">Model</text>
<clipPath id="cTR"><rect x="307.0" y="25.8" width="239.79999999999995" height="96.2"/></clipPath>
<path d="M334.40 25.8V122.0M366.60 25.8V122.0M398.80 25.8V122.0M431.00 25.8V122.0M463.20 25.8V122.0M495.40 25.8V122.0M527.60 25.8V122.0M307.0 41.60H546.8M307.0 69.30H546.8M307.0 97.00H546.8" stroke="#dcdcdc" stroke-width="0.8" fill="none"/>
<g clip-path="url(#cTR)"><path d="M317.6 40.6L318.8 47.5L319.5 55.0L320.7 60.5L322.0 63.0L323.8 62.4L325.7 60.5L328.2 59.3L330.7 60.0L332.5 61.2L334.4 63.0L336.9 64.3L338.8 63.7L340.3 64.0L342.5 63.2L345.0 60.5L347.5 58.7L348.5 53.5L349.5 52.4L350.5 55.0L351.2 59.9L352.5 62.4L355.0 59.9L357.5 62.4L360.0 54.9L362.0 41.2L363.7 47.5L366.2 54.9L368.7 57.4L371.2 56.2L372.4 51.2L374.9 59.9L377.4 64.9L379.9 67.4L382.4 52.4L384.9 43.7L386.9 40.0L388.6 45.0L391.1 54.9L393.6 62.4L396.1 67.4L397.5 64.9L399.5 53.7L401.2 50.0L402.5 38.7L403.7 54.9L406.2 61.2L408.7 64.9L411.2 67.4L413.0 71.1L414.5 76.1L415.0 82.4L414.2 84.0L413.7 87.4L413.4 85.0L412.5 79.9L410.0 76.1L407.5 74.9L405.0 73.6L402.5 69.9L400.5 72.4L400.3 90.0L399.3 102.0L398.5 108.5L397.7 102.0L396.1 91.0L393.6 79.9L391.1 69.9L388.6 59.9L386.1 57.4L383.6 72.4L381.6 89.2L381.2 92.0L380.3 100.0L379.2 93.8L377.4 86.1L374.9 82.4L372.4 81.1L369.9 77.4L367.4 72.4L364.9 67.4L362.4 66.2L360.0 77.4L359.3 84.0L358.7 88.6L358.2 85.0L357.5 79.9L355.0 78.6L352.5 78.6L350.0 74.9L347.5 73.6L345.0 77.4L342.5 81.0L340.3 78.0L338.8 78.7L336.9 79.9L336.2 85.0L335.7 89.3L335.2 86.0L334.4 81.2L332.5 77.4L330.7 78.7L328.2 79.9L326.3 77.4L324.5 78.7L323.2 83.7L321.3 76.2L319.5 72.5L318.5 58.0L317.6 45.0ZM443.6 52.4L446.1 50.0L447.9 54.9L449.9 57.4L452.4 53.7L454.9 57.4L457.0 57.4L458.7 56.2L460.5 61.2L462.5 68.7L464.5 61.2L466.2 59.9L468.7 61.2L471.2 57.4L473.7 48.7L475.4 52.4L477.4 64.9L479.9 54.9L481.9 51.2L483.7 54.9L486.2 59.9L488.7 62.4L491.2 62.4L493.7 72.4L496.1 77.4L497.9 81.1L500.6 78.8L502.7 76.7L504.9 68.2L507.0 62.9L509.1 65.0L511.2 64.0L513.4 65.0L515.5 62.9L517.6 64.0L519.7 57.6L521.8 51.2L523.5 44.9L525.0 51.2L527.2 56.5L529.3 59.7L531.4 58.7L533.5 55.5L535.0 54.4L535.0 60.0L534.6 66.1L532.5 68.2L530.3 71.4L528.2 70.3L526.1 67.2L524.0 57.6L521.8 61.8L519.7 68.2L517.6 75.6L515.5 77.8L513.4 78.8L511.2 81.0L509.1 82.0L507.0 78.8L504.9 81.0L502.7 85.2L500.6 87.3L498.6 91.1L497.4 94.8L494.9 89.9L492.4 79.9L489.9 77.4L487.4 73.6L484.9 71.1L482.4 69.9L479.9 74.9L478.1 92.0L477.7 102.0L477.4 92.0L477.0 80.0L475.0 72.4L472.5 73.6L470.0 71.1L467.5 73.6L465.0 77.4L463.1 90.0L462.7 99.5L462.4 90.0L462.0 80.0L460.0 74.9L457.5 76.1L456.1 76.1L453.6 79.9L452.3 80.0L451.9 84.0L451.5 80.0L448.6 79.9L446.1 72.4L443.6 71.1Z" fill="#fdeef7" stroke="#fdeef7" stroke-width="5" stroke-linejoin="round"/><path d="M414.5 78.5L443.6 70.5" stroke="#b9b813" stroke-width="0.8" fill="none"/><path d="M317.6 41.1V43.3M318.1 44.3V51.0M318.6 47.6V57.3M319.1 50.3V66.5M320.1 61.0V74.2M320.6 66.2V72.2M321.1 61.0V76.2M321.6 61.8V77.6M322.1 62.5V78.2M322.6 68.6V79.5M323.1 64.5V79.6M323.6 62.6V73.3M324.1 67.7V76.4M324.6 61.5V78.5M325.6 61.4V72.5M326.1 67.4V72.1M327.1 66.7V77.0M327.6 60.5V79.6M328.1 64.7V79.7M329.1 67.8V74.6M329.6 59.7V79.7M330.6 59.7V76.5M331.1 60.0V74.3M331.6 63.5V78.5M332.1 60.8V77.6M332.6 65.9V77.4M333.1 61.6V77.8M333.6 65.2V80.0M334.1 62.6V80.6M334.6 63.5V82.2M336.1 63.8V82.7M336.6 65.4V74.7M337.1 66.2V74.6M337.6 63.8V73.8M338.1 63.9V79.3M338.6 69.7V79.0M339.1 68.8V76.4M339.6 63.5V78.8M340.1 63.9V75.1M340.6 68.2V76.4M341.1 63.5V75.7M342.1 65.4V75.0M342.6 63.2V74.2M343.1 62.0V80.1M343.6 61.5V79.7M344.1 63.7V79.1M344.6 66.9V70.6M345.1 63.8V75.0M345.6 59.6V77.0M346.1 63.0V69.1M347.1 60.2V70.8M347.6 65.1V74.1M348.1 59.8V67.3M348.6 57.7V68.5M349.1 53.5V70.2M349.6 60.0V73.5M350.1 60.9V72.4M350.6 56.5V73.1M351.1 58.7V73.6M351.6 66.3V73.5M352.1 65.4V75.8M352.6 67.3V79.0M353.1 61.3V76.2M353.6 61.2V75.1M354.1 63.5V71.9M354.6 59.8V78.4M355.1 59.8V79.0M355.6 63.8V77.7M356.1 61.4V75.8M356.6 62.6V74.4M357.1 68.0V79.0M357.6 62.4V81.0M358.1 67.9V76.8M358.6 70.7V87.7M359.1 59.5V85.4M359.6 57.4V77.2M360.1 54.6V69.9M360.6 52.4V75.3M361.6 43.2V64.4M362.1 42.0V60.6M363.1 46.7V67.2M363.6 47.1V67.2M364.6 51.3V64.5M365.1 56.2V61.2M365.6 53.0V67.6M366.1 54.1V68.6M366.6 55.1V70.7M367.1 59.1V70.2M367.6 60.3V72.1M368.1 63.0V74.2M368.6 61.2V75.2M369.1 60.1V69.0M369.6 59.5V70.0M370.1 65.1V76.2M370.6 56.3V73.6M371.1 60.1V74.2M371.6 63.6V69.0M372.1 55.5V73.0M372.6 62.7V71.8M373.1 52.9V79.7M373.6 62.0V79.5M374.6 58.2V75.8M375.1 60.8V76.7M375.6 60.9V81.3M376.1 69.1V79.8M376.6 65.2V76.2M377.6 67.4V86.7M378.1 69.5V86.7M378.6 69.1V90.8M379.1 75.0V83.8M379.6 76.3V83.9M380.1 70.4V99.2M380.6 66.3V92.4M381.6 60.3V87.7M382.1 58.0V82.4M382.6 50.9V77.6M383.1 60.9V66.5M383.6 50.1V72.9M384.1 53.1V61.2M384.6 45.1V66.7M385.1 51.0V63.8M385.6 41.9V60.6M386.1 44.6V57.1M386.6 43.2V58.3M387.1 40.2V56.7M387.6 41.9V57.1M388.1 44.1V58.6M388.6 44.7V60.0M389.1 49.5V60.3M389.6 51.2V59.1M390.1 54.4V61.6M390.6 53.2V67.6M391.1 54.8V63.2M391.6 56.1V71.9M392.1 57.9V74.3M392.6 60.3V71.5M393.1 61.7V74.6M394.1 67.0V75.2M394.6 63.9V82.5M395.1 67.3V82.4M395.6 65.8V89.3M396.6 69.2V90.9M397.1 65.2V98.2M397.6 80.6V87.2M399.1 59.4V91.7M399.6 56.8V94.0M400.1 58.1V93.6M400.6 57.9V72.6M401.1 55.2V70.6M401.6 46.1V68.7M402.6 48.4V63.8M403.1 50.6V69.6M403.6 55.2V63.7M404.1 55.9V66.2M404.6 61.3V68.4M405.1 63.8V68.5M405.6 63.3V70.3M406.1 63.9V74.5M406.6 62.7V74.8M407.1 64.5V72.8M407.6 67.9V72.8M408.1 66.0V73.8M408.6 65.2V70.6M409.1 67.4V73.1M409.6 65.5V74.4M410.1 66.3V75.8M411.1 67.7V78.0M411.6 72.0V77.3M412.1 73.5V78.0M412.6 72.0V77.6M413.6 76.4V87.0M414.1 74.6V83.9M443.6 55.7V67.7M444.1 51.3V70.6M444.6 57.2V67.6M445.1 53.5V68.1M445.6 51.8V72.5M446.1 49.4V65.9M447.1 53.3V74.3M447.6 53.4V77.5M448.1 57.3V79.0M448.6 65.4V80.5M449.1 55.9V79.5M449.6 56.6V75.3M450.6 63.2V78.9M451.1 59.0V78.1M451.6 54.1V75.2M452.1 66.1V76.9M452.6 54.9V74.8M453.1 54.1V80.0M453.6 57.8V72.9M454.1 55.5V72.4M454.6 59.1V78.5M455.1 58.3V72.4M455.6 59.6V77.1M456.1 56.9V76.0M456.6 60.5V76.6M457.1 57.2V75.9M457.6 64.8V74.5M458.1 56.3V68.5M458.6 56.0V71.0M459.1 56.8V75.3M459.6 59.1V75.1M461.1 69.6V71.3M461.6 64.9V78.7M462.1 71.8V80.0M462.6 71.2V94.1M463.1 66.5V80.6M463.6 64.2V86.4M464.1 62.8V75.1M464.6 65.0V76.1M465.1 60.9V77.2M465.6 63.6V76.8M466.1 60.8V75.8M466.6 66.5V73.2M467.1 65.6V68.5M467.6 61.3V71.7M468.1 64.1V71.4M468.6 61.5V69.9M469.1 60.3V69.6M469.6 63.0V67.3M470.1 60.4V67.9M470.6 58.0V71.3M471.1 63.2V69.3M471.6 58.6V73.1M472.1 58.2V72.4M472.6 53.6V73.1M473.1 50.3V73.9M473.6 53.9V67.1M474.1 58.6V72.0M475.1 53.1V73.1M475.6 54.2V74.7M476.1 64.6V77.2M476.6 60.0V78.7M477.1 62.9V75.5M477.6 71.1V99.3M478.1 66.5V82.7M478.6 62.0V78.5M479.1 58.0V79.8M479.6 57.1V73.7M480.1 63.0V72.2M480.6 54.2V69.0M481.1 54.5V71.9M481.6 51.3V71.6M482.1 51.6V71.0M482.6 52.8V63.2M483.1 54.4V64.7M483.6 55.0V70.8M484.1 60.4V68.5M484.6 57.4V68.8M485.1 58.4V70.8M485.6 59.3V68.1M486.1 59.6V72.3M486.6 61.6V73.2M487.1 65.0V69.6M487.6 64.2V73.7M488.1 66.0V70.8M488.6 66.8V75.8M489.1 62.0V76.4M489.6 65.5V76.8M490.1 62.2V77.3M490.6 64.7V78.5M491.1 64.2V77.5M491.6 66.6V74.9M492.1 68.2V78.6M492.6 68.5V80.0M493.1 72.7V82.6M493.6 73.1V80.6M494.1 78.7V84.1M494.6 75.0V86.6M495.1 79.9V90.6M496.1 77.0V92.7M497.1 79.1V91.3M497.6 86.2V88.5M498.1 85.6V93.0M498.6 84.5V90.3M499.1 82.5V89.6M499.6 79.8V89.2M500.6 82.2V83.6M501.1 81.6V86.5M501.6 81.0V85.1M502.1 77.0V85.8M502.6 78.7V82.8M503.1 75.4V84.1M503.6 77.7V82.6M504.1 73.1V81.3M504.6 69.3V81.1M505.1 67.4V79.3M505.6 69.7V80.3M506.1 64.8V76.4M506.6 63.7V77.5M507.1 65.1V78.3M507.6 64.0V72.5M508.1 65.5V79.3M508.6 65.3V81.4M509.1 65.6V81.5M509.6 65.0V81.4M510.1 65.3V79.9M510.6 63.8V78.1M511.1 64.0V76.2M511.6 67.3V80.9M512.1 64.5V75.2M512.6 64.5V77.1M513.1 66.8V78.0M513.6 65.8V73.3M514.1 65.3V78.0M514.6 67.3V78.3M515.1 66.6V76.7M515.6 65.2V74.5M516.1 63.4V77.6M516.6 67.0V76.1M517.1 68.2V76.4M517.6 64.6V75.4M518.1 63.1V74.2M519.1 59.6V70.5M519.6 61.1V68.1M520.1 57.9V62.9M520.6 54.8V62.0M521.1 57.4V62.8M521.6 51.7V58.5M522.1 51.4V58.2M522.6 49.5V55.9M523.1 48.4V59.5M523.6 49.3V56.2M524.1 47.1V57.1M524.6 50.0V60.6M525.1 52.6V61.3M525.6 57.0V63.5M526.1 58.0V66.7M526.6 54.7V64.4M527.1 58.2V63.2M527.6 57.7V66.0M528.1 59.1V67.0M528.6 62.6V68.5M529.1 59.5V71.1M529.6 59.2V66.1M530.1 61.0V71.6M530.6 60.3V71.1M531.1 62.5V65.3M531.6 58.9V67.5M532.1 59.0V66.5M532.6 60.2V65.4M533.1 58.9V66.9M533.6 55.1V65.3M534.1 54.8V65.6M534.6 54.9V64.7" stroke="#b9b813" stroke-width="0.6" fill="none"/><path d="M489.9 62.0L489.9 31.3" stroke="#b9b813" stroke-width="0.9"/><path d="M500.0 79.0L500.0 29.5" stroke="#b9b813" stroke-width="0.9"/><path d="M495.6 88.0L495.6 118.3" stroke="#b9b813" stroke-width="0.9"/><path d="M317.7 50.0L317.7 40.3" stroke="#b9b813" stroke-width="0.9"/><path d="M317.6 42.3V43.4M318.5 48.6V54.8M318.9 51.5V60.9M319.4 58.0V69.2M320.3 62.2V70.2M320.7 63.6V73.4M321.2 65.5V71.7M321.6 68.3V74.4M322.1 66.4V74.9M322.5 66.4V78.8M323.0 69.1V77.3M323.4 68.4V79.6M323.9 66.0V74.6M324.3 64.2V77.0M325.2 65.6V72.2M325.7 64.2V74.6M326.1 66.0V72.9M326.6 62.4V71.9M327.0 66.3V75.2M327.5 66.9V73.6M327.9 62.4V71.7M328.8 61.6V72.7M329.3 67.4V72.6M329.7 64.8V71.5M330.2 63.7V71.5M330.6 62.9V76.4M331.1 63.2V71.5M331.5 63.5V75.8M332.0 63.4V73.3M332.4 64.0V73.8M332.9 65.5V74.8M333.3 67.9V72.8M333.8 66.4V74.6M334.2 68.1V77.8M334.7 67.6V76.4M335.1 69.3V77.9M336.0 68.3V80.3M336.5 67.4V75.6M337.4 68.2V77.0M337.8 67.7V75.7M338.3 65.4V75.8M338.7 65.9V73.3M339.2 68.3V76.3M339.6 67.1V76.5M340.1 67.4V73.8M340.5 67.8V74.6M341.0 69.4V77.0M341.4 69.3V75.6M341.9 68.5V75.5M342.3 66.7V77.2M342.8 69.7V77.0M343.2 66.3V73.9M343.7 66.5V76.2M344.1 63.6V75.8M344.6 67.0V73.7M345.5 62.4V72.2M345.9 65.6V73.1M346.4 62.2V69.0M346.8 60.9V69.3M347.3 62.0V71.7M347.7 59.5V68.5M348.2 60.8V70.4M349.1 59.2V71.2M349.5 60.8V71.2M350.4 57.8V69.0M350.9 63.6V71.2M351.3 66.0V72.2M351.8 64.3V75.2M352.7 64.9V74.9M353.1 66.6V74.2M353.6 65.3V75.0M354.0 66.6V71.9M354.5 67.1V71.4M354.9 62.5V74.6M355.4 66.8V76.7M355.8 66.6V73.1M356.3 64.1V75.3M357.2 66.1V73.6M357.6 66.2V77.7M358.1 67.7V78.7M358.5 69.0V79.8M359.0 65.3V78.2M359.4 63.9V72.8M359.9 62.1V73.0M360.8 54.7V68.5M362.1 51.8V59.1M362.6 50.3V62.1M363.0 51.1V64.0M363.5 51.8V61.5M363.9 50.5V62.4M364.4 54.7V63.8M364.8 56.3V62.7M365.3 54.8V64.9M365.7 56.4V66.2M366.2 58.9V64.9M366.6 61.4V69.2M367.1 60.1V65.9M367.5 61.3V66.4M368.0 59.0V67.2M368.4 59.5V68.5M369.8 63.3V69.3M370.2 62.0V74.1M370.7 65.2V72.1M371.1 59.9V71.9M371.6 57.6V71.1M372.0 57.3V77.3M372.5 55.8V69.5M373.4 63.5V74.3M373.8 64.9V74.4M374.3 66.0V77.1M374.7 65.2V73.8M375.2 68.5V80.1M375.6 68.1V77.2M376.1 65.9V76.7M376.5 66.3V81.8M377.0 72.5V79.4M377.4 70.3V79.0M377.9 71.4V81.9M378.3 74.1V81.6M378.8 73.5V83.1M379.2 77.3V83.8M379.7 74.6V90.5M380.1 74.2V86.0M380.6 67.6V91.4M381.0 72.5V85.5M381.5 66.3V84.3M382.4 64.3V72.5M382.8 54.9V71.2M383.3 57.7V68.9M384.2 50.2V61.5M384.6 51.8V61.8M385.5 46.9V54.6M386.0 46.6V54.5M386.4 43.4V51.6M386.9 41.9V51.7M387.3 46.7V56.4M387.8 48.1V54.4M388.2 50.0V55.0M388.7 47.5V57.5M389.1 51.0V56.3M389.6 53.2V59.6M390.0 54.0V60.9M390.5 55.8V64.5M390.9 55.9V66.3M391.4 57.7V67.3M391.8 63.1V67.6M392.3 64.2V71.7M393.2 64.1V71.5M393.6 68.9V77.1M394.5 70.4V80.6M395.0 73.4V79.7M395.4 74.8V84.9M395.9 74.5V82.7M396.3 73.7V85.6M396.8 69.6V89.5M397.2 76.7V94.4M399.0 73.4V94.2M399.9 61.0V82.9M400.4 58.7V71.8M400.8 58.3V65.0M401.3 56.3V67.3M401.7 53.7V62.2M402.2 51.5V60.2M402.6 49.3V66.8M403.1 54.4V61.8M403.5 57.2V68.3M404.0 60.5V69.5M404.9 62.2V71.4M405.3 63.1V69.0M405.8 62.6V70.5M406.2 65.0V71.3M406.7 63.6V72.5M407.1 63.8V72.0M407.6 67.5V73.1M408.0 65.8V73.2M408.5 66.6V73.7M409.4 67.2V72.0M410.3 68.1V73.4M411.2 70.8V76.8M411.6 70.4V76.1M412.1 70.5V75.7M412.5 73.5V78.8M413.4 74.2V83.2M413.9 75.6V81.8M414.3 77.6V81.7M443.6 59.0V68.2M444.1 55.0V65.5M444.9 54.1V65.3M445.4 57.7V67.1M445.8 59.0V69.3M446.3 59.2V65.8M446.7 56.1V65.6M447.6 62.3V73.7M448.1 59.6V72.3M448.5 64.6V70.7M449.0 65.0V77.1M449.9 65.1V72.2M450.3 65.0V75.8M450.8 65.1V76.9M451.2 59.0V76.5M451.7 62.9V71.3M452.1 61.0V70.5M452.6 60.7V75.5M453.0 59.2V72.5M453.5 60.7V71.6M453.9 61.6V71.2M454.4 60.1V72.7M454.8 64.8V74.4M455.3 59.7V72.6M455.7 61.9V70.3M456.6 63.3V69.7M457.1 62.5V71.9M457.5 60.2V72.4M458.0 60.5V68.7M458.4 62.0V73.6M458.9 61.7V69.7M459.3 63.0V68.8M459.8 62.6V69.8M460.2 65.3V72.2M461.1 65.3V73.1M461.6 68.9V73.9M462.0 70.3V79.1M462.9 70.1V83.5M463.4 72.4V85.4M463.8 70.9V82.2M464.3 64.8V77.0M465.2 64.8V72.0M465.6 65.1V72.6M466.1 63.5V69.5M466.5 65.3V72.0M467.0 62.4V72.4M467.4 63.0V68.9M467.9 64.3V71.0M468.3 64.8V69.4M468.8 63.0V70.3M469.7 64.3V68.2M470.1 61.5V67.2M470.6 60.3V70.2M471.0 62.6V67.5M471.5 59.1V69.5M471.9 60.7V69.9M472.4 56.7V65.7M472.8 60.0V69.7M473.3 56.4V64.4M473.7 52.9V64.6M474.2 55.6V68.2M475.1 59.7V68.4M475.5 59.0V70.9M476.4 66.4V71.1M476.9 67.8V73.4M477.3 70.0V86.4M477.8 74.4V93.6M478.2 65.4V80.4M478.7 66.5V78.8M479.1 61.4V75.9M479.6 63.9V74.5M480.0 57.5V68.9M480.5 56.2V68.8M481.4 57.0V64.2M481.8 58.6V64.7M482.3 55.7V67.8M482.7 55.2V65.1M483.2 58.5V64.9M483.6 57.3V68.1M484.1 61.6V68.1M484.5 59.7V69.2M485.0 60.1V67.9M485.4 62.4V69.4M485.9 62.6V67.9M486.8 64.3V69.7M487.2 64.2V69.9M487.7 65.8V69.8M488.1 65.4V72.8M488.6 67.0V71.1M489.0 64.3V74.1M489.5 65.7V74.5M489.9 64.9V71.8M490.4 68.4V72.7M490.8 65.1V72.6M491.3 66.8V73.6M491.7 69.2V75.5M492.2 70.6V77.9M492.6 72.5V79.1M493.5 73.8V81.2M494.0 74.9V83.9M494.9 79.9V84.9M495.3 78.8V88.9M495.8 82.6V85.9M496.2 81.9V88.8M497.6 85.8V88.8M498.0 84.0V88.5M498.5 84.1V88.4M498.9 82.4V88.9M499.4 81.7V85.7M499.8 80.4V85.7M500.3 81.5V84.6M500.7 81.8V83.8M501.2 79.1V85.2M501.6 80.1V83.1M502.1 80.4V83.5M502.5 78.0V83.6M503.0 78.5V81.9M503.4 76.9V81.7M503.9 76.3V79.6M504.3 74.9V77.8M504.8 73.5V78.5M505.2 71.0V77.6M505.7 67.8V75.0M506.1 68.2V74.1M506.6 67.6V73.1M507.0 65.3V74.3M507.9 68.4V75.4M508.4 66.4V74.9M508.8 71.0V78.8M509.3 70.3V75.5M509.7 67.6V77.7M510.2 68.6V74.9M510.6 67.0V74.9M511.1 67.8V79.3M511.5 67.4V78.4M512.0 67.8V77.8M512.4 70.6V76.6M512.9 67.3V77.5M513.3 66.6V75.6M513.8 69.0V73.7M514.2 66.2V74.6M514.7 66.4V75.1M515.1 68.4V74.6M515.6 67.1V75.1M516.0 65.0V75.2M516.9 67.9V74.7M517.4 68.3V73.8M517.8 66.9V70.3M518.3 65.1V70.6M518.7 62.0V70.3M519.2 61.1V68.4M519.6 59.3V65.3M520.1 58.6V65.8M520.5 57.1V61.7M521.0 56.6V61.9M521.9 52.0V59.7M522.3 52.7V58.9M522.8 51.2V56.1M523.2 50.3V57.6M523.7 47.1V54.0M524.1 50.5V56.0M524.6 50.7V58.8M525.5 53.8V63.2M525.9 56.0V63.8M526.4 57.3V63.0M526.8 57.3V66.1M527.7 60.8V64.8M528.2 61.9V68.5M528.6 61.4V66.6M529.1 63.9V68.3M529.6 63.7V67.6M530.0 62.2V67.4M530.5 62.3V68.2M530.9 61.3V68.5M531.4 62.0V68.2M531.8 60.5V66.1M532.3 60.7V65.1M532.7 58.1V64.6M533.2 58.3V63.3M533.6 57.0V63.7M534.1 58.5V65.2M534.5 58.0V63.6M535.0 55.2V59.5" stroke="#f2a600" stroke-width="0.75" fill="none"/></g>
<rect x="307.0" y="25.8" width="239.80" height="96.20" fill="none" stroke="#939393" stroke-width="1.0"/>
<text x="334.40" y="130.60" font-size="7.5" text-anchor="middle" fill="#111">2012</text>
<text x="366.60" y="130.60" font-size="7.5" text-anchor="middle" fill="#111">2014</text>
<text x="398.80" y="130.60" font-size="7.5" text-anchor="middle" fill="#111">2016</text>
<text x="431.00" y="130.60" font-size="7.5" text-anchor="middle" fill="#111">2018</text>
<text x="463.20" y="130.60" font-size="7.5" text-anchor="middle" fill="#111">2020</text>
<text x="495.40" y="130.60" font-size="7.5" text-anchor="middle" fill="#111">2022</text>
<text x="527.60" y="130.60" font-size="7.5" text-anchor="middle" fill="#111">2024</text>
<text x="304.40" y="44.80" font-size="7.3" text-anchor="end" fill="#111">0.01</text>
<text x="304.40" y="72.50" font-size="7.3" text-anchor="end" fill="#111">0.00</text>
<text x="304.40" y="100.20" font-size="7.3" text-anchor="end" fill="#111"><tspan font-size="5.6" dy="-0.9">−</tspan><tspan dy="0.9">0.01</tspan></text>
<path d="M334.40 122.0v1.6M366.60 122.0v1.6M398.80 122.0v1.6M431.00 122.0v1.6M463.20 122.0v1.6M495.40 122.0v1.6M527.60 122.0v1.6M307.0 41.60h-1.6M307.0 69.30h-1.6M307.0 97.00h-1.6" stroke="#939393" stroke-width="0.8"/>
<text x="426.90" y="23.50" font-size="7.7" text-anchor="middle" fill="#111">East: Residuals</text>
<text x="426.90" y="140.30" font-size="7.7" text-anchor="middle" fill="#111">Epoch (years)</text>
<text transform="translate(284.6,73.90) rotate(-90)" font-size="7.7" text-anchor="middle" fill="#111">Residuals (m)</text>
<rect x="310.6" y="28.5" width="42.6" height="10.7" rx="1" fill="#fff" fill-opacity="0.85" stroke="#d6d6d6" stroke-width="0.7"/><path d="M311.9 32.8H323.1" stroke="#c8c81a" stroke-width="0.9"/><text x="327.4" y="34.9" font-size="6.1" fill="#222">Residuals</text>
<clipPath id="cBL"><rect x="31.6" y="153.6" width="239.70000000000002" height="97.0"/></clipPath>
<path d="M59.50 153.6V250.6M91.70 153.6V250.6M123.90 153.6V250.6M156.10 153.6V250.6M188.30 153.6V250.6M220.50 153.6V250.6M252.70 153.6V250.6M31.6 171.80H271.3M31.6 196.90H271.3M31.6 222.00H271.3M31.6 247.10H271.3" stroke="#dcdcdc" stroke-width="0.8" fill="none"/>
<g clip-path="url(#cBL)"><path d="M42.6 204.4L44.4 205.3L45.6 207.0L46.7 212.3L47.9 216.7L49.7 221.1L51.4 223.7L53.2 224.6L54.9 222.8L56.7 217.6L58.5 214.9L60.2 213.2L62.0 215.8L63.7 213.2L65.5 212.3L67.2 214.1L69.0 216.7L70.8 217.6L72.5 216.7L74.3 214.1L76.0 209.7L77.8 207.0L79.6 205.0L81.9 205.8L83.5 208.8L85.0 211.9L86.5 209.6L88.1 207.3L90.4 206.5L92.7 207.3L95.0 208.3L97.3 207.5L99.6 209.5L101.9 211.0L104.2 210.5L106.5 209.5L108.1 206.5L109.6 203.0L111.2 201.5L112.7 199.5L114.2 195.5L115.8 193.8L117.8 194.6L119.7 194.3L121.6 193.8L123.5 190.0L124.8 187.1L126.7 184.5L128.0 181.7L129.8 177.3L131.2 175.2L132.6 178.2L134.0 177.3L135.4 173.1L136.8 169.7L138.2 167.6L139.6 166.9L140.2 169.0L140.0 174.0L138.5 177.0L137.0 181.0L135.5 185.0L133.8 188.5L131.9 188.5L130.0 190.0L128.7 191.5L127.4 197.9L126.4 202.4L125.5 206.9L124.8 208.0L124.2 209.0L123.7 208.0L122.9 205.8L121.6 204.8L119.7 204.6L117.8 204.0L115.8 204.0L113.9 206.0L111.9 214.0L110.4 211.5L108.8 215.2L107.3 218.5L105.0 220.2L102.7 220.5L100.4 221.3L98.1 220.0L95.8 218.5L93.5 218.1L91.2 218.1L88.8 218.1L87.3 221.2L86.6 227.0L86.1 232.7L85.6 227.0L85.0 221.2L83.5 219.6L81.9 218.1L79.6 217.5L77.8 218.7L76.0 222.0L74.3 224.6L72.5 228.1L70.8 229.9L69.0 227.2L67.2 224.6L65.5 225.5L63.7 228.1L62.0 225.5L60.2 226.4L58.5 229.0L56.7 233.4L56.0 236.0L55.5 239.5L55.0 238.0L53.7 235.1L53.2 238.0L52.7 245.7L52.2 238.0L51.4 232.5L49.7 229.0L47.9 225.5L46.2 221.1L44.4 218.5L42.6 216.7ZM169.2 178.0L169.7 167.6L170.1 178.0L169.9 178.0L172.4 179.5L174.9 180.5L177.4 181.0L179.9 181.0L182.4 180.5L184.4 179.0L185.5 175.0L186.4 173.0L186.8 165.0L187.2 173.0L188.6 172.0L191.1 169.5L193.6 168.0L196.1 168.5L198.0 168.0L200.5 167.5L201.9 167.0L202.3 161.5L202.7 166.0L204.0 164.8L206.0 165.0L208.0 168.0L210.5 167.0L213.0 168.5L216.3 167.4L218.0 167.0L219.6 168.2L221.7 170.0L224.2 167.5L225.4 166.2L227.9 171.2L230.4 170.0L232.9 172.4L235.4 173.7L237.9 174.9L240.4 173.7L242.9 177.4L245.4 182.4L247.9 181.2L250.4 179.9L252.9 177.4L255.4 174.9L257.9 176.2L259.1 179.9L259.1 191.1L257.9 193.6L255.4 192.4L252.9 193.6L250.4 196.1L247.9 196.1L245.4 194.9L242.9 191.1L240.4 187.4L237.9 188.7L235.4 189.9L232.9 188.7L231.7 195.0L231.2 198.6L230.7 195.0L229.2 186.2L226.7 184.9L225.4 190.0L224.9 193.6L224.4 190.0L222.9 182.4L220.4 181.2L219.6 180.5L216.3 181.4L213.0 180.3L210.5 179.5L208.0 181.0L205.5 182.0L203.0 180.0L200.5 181.0L197.3 181.0L194.9 180.0L192.4 181.0L189.9 181.0L187.9 184.0L186.1 186.5L183.6 190.5L180.4 192.0L179.7 203.0L179.2 208.6L178.7 203.0L178.2 193.0L176.1 191.5L173.7 190.0L171.2 189.0L169.2 188.0Z" fill="#eafcfb" stroke="#eafcfb" stroke-width="9" stroke-linejoin="round"/><path d="M42.6 216.5L43.6 217.7L44.6 218.8L45.6 220.2L46.6 221.0L47.6 221.7L48.6 222.3L49.6 222.5L50.6 223.4L51.6 224.1L52.6 224.6L53.6 225.1L54.6 225.3L55.6 225.3L56.6 225.2L57.6 224.9L58.6 224.4L59.6 223.7L60.6 222.8L61.6 222.2L62.6 221.7L63.6 221.3L64.6 221.1L65.6 221.0L66.6 220.9L67.6 220.8L68.6 220.6L69.6 220.2L70.6 219.7L71.6 219.1L72.6 218.5L73.6 218.1L74.6 217.6L75.6 217.1L76.6 216.6L77.6 216.2L78.6 215.9L79.6 215.6L80.6 215.0L81.6 214.5L82.6 214.1L83.6 213.8L84.6 213.7L85.6 213.6L86.6 213.7L87.6 213.8L88.6 213.9L89.6 214.0L90.6 214.1L91.6 214.1L92.6 214.0L93.6 213.8L94.6 213.6L95.6 213.7L96.6 213.9L97.6 214.1L98.6 214.3L99.6 214.4L100.6 214.4L101.6 214.2L102.6 213.9L103.6 213.5L104.6 213.1L105.6 212.5L106.6 211.7L107.6 210.7L108.6 209.6L109.6 208.5L110.6 207.4L111.6 206.3L112.6 205.2L113.6 204.2L114.6 203.2L115.6 202.3L116.6 201.5L117.6 200.8L118.6 200.1L119.6 199.2L120.6 198.1L121.6 197.0L122.6 196.0L123.6 194.9L124.6 193.8L125.6 192.7L126.6 191.6L127.6 190.4L128.6 189.0L129.6 187.5L130.6 185.8L131.6 184.1L132.6 182.2L133.6 181.3L134.6 180.3L135.6 179.6L136.6 179.0L137.6 178.4L138.6 178.0L139.6 177.4M169.2 184.6L170.2 184.8L171.2 185.0L172.2 185.9L173.2 186.1L174.2 186.1L175.2 186.1L176.2 186.0L177.2 186.1L178.2 186.0L179.2 185.8L180.2 185.4L181.2 184.9L182.2 184.4L183.2 183.7L184.2 183.0L185.2 182.2L186.2 181.4L187.2 180.0L188.2 179.1L189.2 178.3L190.2 177.5L191.2 176.8L192.2 176.1L193.2 175.6L194.2 175.2L195.2 174.7L196.2 174.4L197.2 174.2L198.2 174.0L199.2 173.9L200.2 173.8L201.2 173.8L202.2 173.8L203.2 173.7L204.2 173.7L205.2 173.6L206.2 173.6L207.2 173.6L208.2 173.6L209.2 173.7L210.2 173.8L211.2 173.9L212.2 174.0L213.2 174.1L214.2 174.3L215.2 174.4L216.2 174.5L217.2 174.8L218.2 175.2L219.2 175.4L220.2 175.6L221.2 175.9L222.2 176.2L223.2 176.6L224.2 177.3L225.2 177.8L226.2 178.3L227.2 178.7L228.2 179.2L229.2 179.6L230.2 180.0L231.2 180.4L232.2 180.6L233.2 180.7L234.2 181.0L235.2 181.3L236.2 181.8L237.2 182.3L238.2 182.8L239.2 183.1L240.2 183.5L241.2 184.0L242.2 184.5L243.2 184.9L244.2 185.3L245.2 185.6L246.2 185.8L247.2 186.0L248.2 186.3L249.2 186.4L250.2 186.5L251.2 186.5L252.2 186.5L253.2 186.4L254.2 186.2L255.2 186.0L256.2 185.7L257.2 185.4L258.2 185.1" stroke="#b8d26a" stroke-width="0.9" stroke-dasharray="1.6 1.2" fill="none"/><path d="M139.8 178.0L168.5 185.7" stroke="#b8d26a" stroke-width="0.9" stroke-dasharray="1.6 1.2" fill="none"/><path d="M140.0 175.0L169.0 177.3" stroke="#7080b8" stroke-width="0.7" fill="none"/><path d="M42.6 204.7V214.8M43.2 205.8V217.5M43.8 204.8V217.9M44.4 205.7V218.5M45.0 207.7V218.0M45.6 212.6V216.3M46.2 209.9V221.1M46.8 212.5V221.3M47.4 215.8V224.3M48.0 218.3V225.7M48.6 218.8V225.0M49.2 219.8V227.6M49.8 222.8V225.8M50.4 222.3V230.6M51.0 222.9V229.9M51.6 226.9V232.3M52.2 225.5V234.3M52.8 225.5V244.4M53.4 225.9V233.5M54.0 224.0V235.9M54.6 223.1V237.4M55.2 221.9V238.2M55.8 220.1V236.0M56.4 222.6V234.4M57.0 217.4V226.5M57.6 216.3V231.2M58.2 217.0V229.9M58.8 214.9V223.2M59.4 215.0V225.3M60.0 217.7V222.7M60.6 214.2V226.4M61.2 214.6V225.9M61.8 215.8V225.7M62.4 215.1V226.4M63.0 215.9V227.0M63.6 213.8V223.9M64.2 213.7V227.4M64.8 213.0V222.7M65.4 212.0V224.5M66.0 214.0V224.4M66.6 216.8V224.9M67.2 213.9V223.9M67.8 215.2V223.0M68.4 218.7V223.7M69.0 216.6V226.9M69.6 216.9V228.2M70.2 221.9V224.9M70.8 222.4V229.9M71.4 217.3V227.9M72.0 220.2V227.1M72.6 216.3V224.1M73.2 217.9V226.9M73.8 214.9V221.2M74.4 214.0V222.4M75.0 212.3V219.9M75.6 210.5V217.8M76.2 209.6V221.6M76.8 213.3V219.8M77.4 208.0V216.2M78.0 206.8V218.6M78.6 206.2V218.5M79.2 205.7V216.6M79.8 205.4V216.7M80.4 206.4V217.1M81.0 205.2V218.0M81.6 208.0V217.9M82.2 207.3V218.6M82.8 207.5V216.4M83.4 209.5V215.8M84.0 211.0V219.5M84.6 211.5V220.4M85.2 213.4V218.7M85.8 212.3V223.9M86.4 209.6V229.4M87.0 208.7V220.4M87.6 207.8V218.6M88.2 210.9V219.6M88.8 207.4V213.5M89.4 206.7V217.3M90.0 206.6V215.8M90.6 207.6V218.2M91.2 208.2V218.4M91.8 209.4V218.2M92.4 206.9V218.0M93.0 207.7V215.3M93.6 207.4V217.2M94.2 207.9V216.6M94.8 207.9V217.1M95.4 207.9V218.7M96.0 208.5V217.9M96.6 207.9V218.1M97.2 207.5V219.5M97.8 208.1V217.2M98.4 209.3V219.8M99.0 209.1V218.3M99.6 209.4V216.6M100.2 212.8V220.6M100.8 210.6V219.6M101.4 210.7V219.2M102.0 211.3V220.8M102.6 210.6V220.4M103.2 210.4V217.6M103.8 210.7V220.3M104.4 210.3V220.5M105.0 214.2V220.4M105.6 210.0V219.9M106.2 210.1V219.4M106.8 208.8V219.0M107.4 207.8V218.1M108.0 207.7V214.9M108.6 207.0V215.3M109.2 208.4V212.4M109.8 202.5V209.7M110.4 203.9V211.7M111.0 202.3V210.0M111.6 202.1V211.6M112.2 200.3V212.9M112.8 199.0V209.4M113.4 198.8V207.2M114.0 198.3V205.3M114.6 196.7V203.2M115.2 194.4V202.6M115.8 195.6V203.3M116.4 194.5V201.9M117.0 195.7V204.1M117.6 196.4V203.0M118.2 194.4V202.8M118.8 196.0V203.6M119.4 195.0V201.1M120.0 198.3V204.8M120.6 196.6V204.1M121.2 193.7V204.9M121.8 193.3V200.4M122.4 195.6V201.3M123.0 190.9V205.0M123.6 189.6V206.7M124.2 188.4V208.8M124.8 186.8V202.0M125.4 193.8V199.9M126.0 186.0V196.1M126.6 185.1V201.2M127.2 183.2V198.8M127.8 182.2V194.8M128.4 180.9V189.2M129.0 180.6V186.8M129.6 180.3V188.0M130.2 179.4V189.6M130.8 180.8V188.6M131.4 175.7V183.4M132.0 178.6V187.4M132.6 178.2V188.7M133.2 178.6V185.1M133.8 178.1V188.5M134.4 176.4V187.2M135.0 175.3V183.6M135.6 173.0V184.4M136.2 171.1V178.2M136.8 170.4V177.9M137.4 168.9V179.6M138.0 171.8V175.0M138.6 167.2V173.8M139.2 168.1V175.6M139.8 169.2V171.6M169.2 177.8V188.2M169.8 170.1V180.2M170.4 179.7V188.1M171.0 178.4V189.0M171.6 178.9V189.0M172.2 179.7V189.6M172.8 179.4V189.5M173.4 180.0V189.3M174.0 183.4V190.2M174.6 184.2V190.8M175.2 181.5V187.6M175.8 180.7V191.5M176.4 180.6V190.0M177.0 184.0V192.1M177.6 181.9V192.9M178.2 181.7V193.0M178.8 180.9V203.9M179.4 181.7V197.9M180.0 181.7V195.8M180.6 180.7V191.7M181.2 183.1V191.7M181.8 180.6V190.8M182.4 181.7V191.1M183.0 179.9V190.7M183.6 180.2V185.9M184.2 179.1V189.3M184.8 179.8V184.0M185.4 178.8V183.7M186.0 178.9V181.3M186.6 168.8V184.9M187.2 174.4V184.2M187.8 172.4V183.5M188.4 172.5V181.3M189.0 171.9V182.3M189.6 171.6V179.6M190.2 171.8V180.8M190.8 169.5V178.7M191.4 171.4V181.1M192.0 171.3V181.2M192.6 172.7V176.7M193.2 168.3V179.8M193.8 168.2V176.9M194.4 169.5V177.4M195.0 171.7V179.9M195.6 171.8V180.3M196.2 171.8V176.2M196.8 171.5V180.5M197.4 168.9V177.4M198.0 167.8V180.9M198.6 167.6V180.9M199.2 171.0V181.1M199.8 168.2V175.8M200.4 170.4V177.6M201.0 171.0V177.8M201.6 167.4V177.7M202.2 169.0V180.5M202.8 168.4V179.5M203.4 170.3V180.5M204.0 169.6V180.4M204.6 170.6V178.9M205.2 169.4V178.6M205.8 165.3V181.4M206.4 167.0V178.6M207.0 166.5V180.9M207.6 170.7V181.1M208.2 167.7V180.9M208.8 168.8V177.1M209.4 167.5V177.7M210.0 168.2V174.5M210.6 167.0V179.0M211.2 170.2V175.8M211.8 169.2V175.5M212.4 171.9V178.3M213.0 169.3V177.0M213.6 168.4V179.7M214.2 171.6V175.6M214.8 172.8V181.0M215.4 170.5V179.1M216.0 168.1V181.1M216.6 167.5V179.5M217.2 169.6V181.3M217.8 166.7V180.5M218.4 172.8V174.8M219.0 169.1V175.2M219.6 172.8V179.7M220.2 168.7V180.8M220.8 172.3V179.7M221.4 169.5V177.8M222.0 169.6V181.7M222.6 170.4V180.5M223.2 172.0V182.2M223.8 173.4V181.2M224.4 170.3V186.6M225.0 169.4V192.2M225.6 167.9V188.5M226.2 171.4V187.1M226.8 168.7V181.4M227.4 172.3V180.4M228.0 171.2V182.8M228.6 170.9V183.0M229.2 172.1V186.5M229.8 170.5V189.1M230.4 169.7V193.4M231.0 172.2V192.3M231.6 179.6V195.7M232.2 175.3V189.1M232.8 174.2V189.2M233.4 172.8V189.1M234.0 175.8V188.7M234.6 173.4V187.6M235.2 173.5V186.9M235.8 177.8V185.0M236.4 175.1V189.3M237.0 174.4V188.2M237.6 176.9V184.7M238.2 176.4V187.7M238.8 177.8V188.3M239.4 174.1V186.3M240.0 176.1V187.5M240.6 180.0V187.7M241.2 178.5V188.2M241.8 175.7V185.5M242.4 177.3V189.5M243.0 181.8V191.4M243.6 183.8V191.2M244.2 180.8V191.4M244.8 186.8V192.8M245.4 184.2V194.7M246.0 182.3V195.3M246.6 185.1V190.1M247.2 182.4V192.8M247.8 182.4V193.6M248.4 182.1V195.3M249.0 184.6V196.4M249.6 181.4V190.7M250.2 181.4V194.0M250.8 179.5V191.9M251.4 179.3V192.5M252.0 178.3V193.1M252.6 180.4V191.0M253.2 178.5V191.2M253.8 176.6V193.2M254.4 177.0V189.8M255.0 179.3V192.1M255.6 176.3V190.6M256.2 175.8V192.8M256.8 176.7V193.3M257.4 175.9V192.4M258.0 177.7V191.6M258.6 179.1V191.5" stroke="#3f55b0" stroke-width="0.8" fill="none"/><path d="M42.6 205.9L44.4 206.9L45.6 208.6L46.7 213.5L47.9 217.8L49.7 222.0L51.4 224.8L53.2 226.2L54.9 224.6L56.7 219.5L58.5 216.6L60.2 214.8L62.0 217.0L63.7 215.0L65.5 213.9L67.2 215.4L69.0 218.0L70.8 219.1L72.5 218.1L74.3 215.4L76.0 211.2L77.8 208.4L79.6 206.5L81.9 207.3L83.5 210.1L85.0 213.0L86.5 211.8L88.1 208.8L90.4 207.9L92.7 208.6L95.0 209.5L97.3 208.9L99.6 210.9L101.9 212.2L104.2 211.7L106.5 210.7L108.1 207.7L109.6 204.2L111.2 202.9L112.7 200.9L114.2 196.7L115.8 195.0L117.8 195.7L119.7 195.5L121.6 195.1L123.5 192.1L124.8 189.6L126.7 186.5L128.0 183.3L129.8 178.9L131.2 176.9L132.6 179.4L134.0 178.6L135.4 174.6L136.8 171.1L138.2 168.8L139.6 167.8L140.2 169.6L140.0 173.3L138.5 175.9L137.0 179.6L135.5 183.5L133.8 187.2L131.9 187.1L130.0 188.4L128.7 190.1L127.4 196.1L126.4 200.3L125.5 204.4L124.8 205.5L124.2 206.5L123.7 205.8L122.9 204.0L121.6 203.5L119.7 203.4L117.8 202.9L115.8 202.8L113.9 204.8L111.9 212.4L110.4 210.4L108.8 214.0L107.3 217.2L105.0 219.0L102.7 219.3L100.4 219.9L98.1 218.6L95.8 217.2L93.5 216.8L91.2 216.7L88.8 216.8L87.3 219.7L86.6 224.9L86.1 230.0L85.6 225.1L85.0 220.1L83.5 218.3L81.9 216.6L79.6 216.0L77.8 217.3L76.0 220.5L74.3 223.3L72.5 226.7L70.8 228.4L69.0 225.9L67.2 223.3L65.5 223.9L63.7 226.3L62.0 224.3L60.2 224.8L58.5 227.3L56.7 231.5L56.0 234.0L55.5 237.3L55.0 236.1L53.7 233.8L53.2 236.4L52.7 243.1L52.2 236.3L51.4 231.4L49.7 228.1L47.9 224.4L46.2 219.8L44.4 216.9L42.6 215.2ZM169.2 179.2L169.7 170.1L170.1 179.3L169.9 179.2L172.4 180.7L174.9 181.7L177.4 182.4L179.9 183.3L182.4 181.8L184.4 180.2L185.5 176.5L186.4 174.6L186.8 167.5L187.2 174.4L188.6 173.3L191.1 170.9L193.6 169.5L196.1 169.9L198.0 169.6L200.5 169.1L201.9 168.6L202.3 163.8L202.7 167.7L204.0 166.7L206.0 167.0L208.0 169.6L210.5 168.5L213.0 169.9L216.3 169.1L218.0 168.7L219.6 169.7L221.7 171.4L224.2 170.1L225.4 169.1L227.9 172.9L230.4 172.8L232.9 174.4L235.4 175.6L237.9 176.6L240.4 175.3L242.9 179.0L245.4 183.9L247.9 183.0L250.4 181.8L252.9 179.3L255.4 177.0L257.9 178.3L259.1 181.2L259.1 189.8L257.9 191.5L255.4 190.3L252.9 191.7L250.4 194.2L247.9 194.3L245.4 193.4L242.9 189.5L240.4 185.8L237.9 187.0L235.4 188.0L232.9 186.7L231.7 192.1L231.2 195.3L230.7 192.0L229.2 184.3L226.7 183.0L225.4 187.1L224.9 190.4L224.4 187.3L222.9 180.8L220.4 179.7L219.6 179.0L216.3 179.7L213.0 178.9L210.5 178.0L208.0 179.4L205.5 180.0L203.0 178.3L200.5 179.4L197.3 179.5L194.9 178.6L192.4 179.5L189.9 179.8L187.9 182.6L186.1 185.0L183.6 189.2L180.4 190.7L179.7 200.4L179.2 205.3L178.7 200.4L178.2 191.6L176.1 190.2L173.7 188.8L171.2 187.8L169.2 186.8Z" fill="#3f55b0" stroke="none"/><path d="M42.6 207.7V210.8M43.7 209.9V213.6M44.8 206.7V214.2M45.9 211.5V215.4M47.0 215.6V222.4M48.1 221.0V222.8M49.2 223.8V225.7M50.3 224.6V229.5M51.4 226.0V231.5M52.5 231.8V241.6M53.6 225.0V233.4M54.7 225.9V231.1M55.8 225.1V232.9M56.9 219.7V231.0M58.0 219.7V228.8M59.1 220.6V225.6M60.2 217.0V225.6M61.3 216.8V224.1M62.4 219.2V225.1M63.5 220.0V223.7M64.6 215.7V220.0M65.7 215.1V223.6M66.8 214.6V220.1M67.9 219.5V221.4M69.0 221.6V223.0M70.1 221.1V228.0M71.2 221.2V226.3M72.3 218.0V224.1M73.4 217.7V223.3M74.5 216.1V220.3M75.6 212.7V220.4M76.7 213.2V218.0M77.8 209.1V213.2M78.9 209.5V211.7M80.0 207.2V213.9M81.1 208.7V214.3M82.2 211.0V215.6M83.3 211.4V218.8M84.4 215.7V218.1M85.5 213.0V222.1M86.6 210.5V219.0M87.7 214.0V214.6M88.8 207.8V213.9M89.9 210.5V213.5M91.0 207.6V216.7M92.1 208.7V215.0M93.2 212.7V217.4M94.3 209.9V214.0M95.4 211.9V216.7M96.5 210.8V216.2M97.6 208.8V215.6M98.7 210.1V218.7M99.8 214.1V219.1M100.9 213.2V218.2M102.0 212.0V219.6M103.1 212.5V216.0M104.2 212.6V219.2M105.3 213.9V218.2M106.4 213.3V217.7M107.5 209.1V217.5M108.6 207.9V211.0M109.7 204.2V212.3M110.8 205.8V207.1M111.9 202.9V207.7M113.0 199.7V205.0M114.1 199.1V201.8M115.2 195.8V200.3M116.3 195.5V201.8M117.4 195.6V203.3M118.5 195.3V201.8M119.6 195.8V199.8M120.7 198.0V203.4M121.8 198.6V203.4M122.9 194.1V204.0M124.0 196.7V203.8M125.1 193.3V198.3M126.2 187.6V198.9M127.3 188.4V191.0M128.4 186.0V190.0M129.5 184.1V184.7M130.6 177.0V187.9M131.7 177.0V185.9M132.8 179.8V187.0M133.9 179.5V185.1M135.0 175.1V182.8M136.1 175.6V179.6M137.2 174.6V179.5M138.3 170.0V173.7M139.4 171.0V171.9M169.2 179.2V186.3M170.3 180.8V186.0M171.4 180.4V185.6M172.5 183.0V185.1M173.6 181.3V186.2M174.7 181.7V186.0M175.8 182.0V190.6M176.9 182.4V189.0M178.0 184.2V189.3M179.1 183.3V195.3M180.2 185.8V193.7M181.3 184.5V189.3M182.4 181.5V187.9M183.5 181.7V186.0M184.6 179.1V187.9M185.7 178.7V185.5M186.8 171.5V177.1M187.9 175.7V182.8M189.0 176.4V178.0M190.1 172.7V178.8M191.2 170.6V176.1M192.3 170.0V177.8M193.4 171.6V179.2M194.5 172.1V177.0M195.6 171.1V175.6M196.7 171.0V176.9M197.8 170.9V175.2M198.9 169.4V174.6M200.0 169.7V175.3M201.1 172.5V174.1M202.2 171.0V178.9M203.3 170.7V178.9M204.4 169.5V178.3M205.5 173.0V178.5M206.6 170.0V173.8M207.7 174.0V180.2M208.8 169.6V179.2M209.9 171.5V178.7M211.0 172.5V174.4M212.1 171.1V175.6M213.2 173.9V179.0M214.3 169.1V177.3M215.4 171.4V175.8M216.5 172.1V180.5M217.6 173.6V174.2M218.7 170.3V176.0M219.8 170.2V179.4M220.9 170.0V177.1M222.0 170.4V176.2M223.1 170.7V179.7M224.2 170.6V182.5M225.3 172.5V186.8M226.4 171.1V185.0M227.5 176.9V183.5M228.6 178.5V183.9M229.7 178.2V188.0M230.8 173.8V187.0M231.9 174.3V190.2M233.0 175.0V181.9M234.1 180.7V184.8M235.2 176.6V184.6M236.3 181.4V186.4M237.4 181.4V182.0M238.5 180.8V187.0M239.6 177.1V181.4M240.7 176.0V186.4M241.8 177.5V188.1M242.9 182.9V190.1M244.0 184.4V188.3M245.1 185.6V189.2M246.2 184.0V193.5M247.3 184.5V192.0M248.4 184.6V189.6M249.5 182.4V194.3M250.6 182.4V188.1M251.7 186.1V192.9M252.8 183.2V191.5M253.9 184.5V188.8M255.0 181.0V185.8M256.1 182.6V191.4M257.2 182.1V185.4M258.3 184.0V185.2" stroke="#2e3b94" stroke-width="0.7" fill="none"/><path d="M42.6 204.4L44.4 205.3L45.6 207.0L46.7 212.3L47.9 216.7L49.7 221.1L51.4 223.7L53.2 224.6L54.9 222.8L56.7 217.6L58.5 214.9L60.2 213.2L62.0 215.8L63.7 213.2L65.5 212.3L67.2 214.1L69.0 216.7L70.8 217.6L72.5 216.7L74.3 214.1L76.0 209.7L77.8 207.0L79.6 205.0L81.9 205.8L83.5 208.8L85.0 211.9L86.5 209.6L88.1 207.3L90.4 206.5L92.7 207.3L95.0 208.3L97.3 207.5L99.6 209.5L101.9 211.0L104.2 210.5L106.5 209.5L108.1 206.5L109.6 203.0L111.2 201.5L112.7 199.5L114.2 195.5L115.8 193.8L117.8 194.6L119.7 194.3L121.6 193.8L123.5 190.0L124.8 187.1L126.7 184.5L128.0 181.7L129.8 177.3L131.2 175.2L132.6 178.2L134.0 177.3L135.4 173.1L136.8 169.7L138.2 167.6L139.6 166.9L140.2 169.0L140.0 174.0L138.5 177.0L137.0 181.0L135.5 185.0L133.8 188.5L131.9 188.5L130.0 190.0L128.7 191.5L127.4 197.9L126.4 202.4L125.5 206.9L124.8 208.0L124.2 209.0L123.7 208.0L122.9 205.8L121.6 204.8L119.7 204.6L117.8 204.0L115.8 204.0L113.9 206.0L111.9 214.0L110.4 211.5L108.8 215.2L107.3 218.5L105.0 220.2L102.7 220.5L100.4 221.3L98.1 220.0L95.8 218.5L93.5 218.1L91.2 218.1L88.8 218.1L87.3 221.2L86.6 227.0L86.1 232.7L85.6 227.0L85.0 221.2L83.5 219.6L81.9 218.1L79.6 217.5L77.8 218.7L76.0 222.0L74.3 224.6L72.5 228.1L70.8 229.9L69.0 227.2L67.2 224.6L65.5 225.5L63.7 228.1L62.0 225.5L60.2 226.4L58.5 229.0L56.7 233.4L56.0 236.0L55.5 239.5L55.0 238.0L53.7 235.1L53.2 238.0L52.7 245.7L52.2 238.0L51.4 232.5L49.7 229.0L47.9 225.5L46.2 221.1L44.4 218.5L42.6 216.7ZM169.2 178.0L169.7 167.6L170.1 178.0L169.9 178.0L172.4 179.5L174.9 180.5L177.4 181.0L179.9 181.0L182.4 180.5L184.4 179.0L185.5 175.0L186.4 173.0L186.8 165.0L187.2 173.0L188.6 172.0L191.1 169.5L193.6 168.0L196.1 168.5L198.0 168.0L200.5 167.5L201.9 167.0L202.3 161.5L202.7 166.0L204.0 164.8L206.0 165.0L208.0 168.0L210.5 167.0L213.0 168.5L216.3 167.4L218.0 167.0L219.6 168.2L221.7 170.0L224.2 167.5L225.4 166.2L227.9 171.2L230.4 170.0L232.9 172.4L235.4 173.7L237.9 174.9L240.4 173.7L242.9 177.4L245.4 182.4L247.9 181.2L250.4 179.9L252.9 177.4L255.4 174.9L257.9 176.2L259.1 179.9L259.1 191.1L257.9 193.6L255.4 192.4L252.9 193.6L250.4 196.1L247.9 196.1L245.4 194.9L242.9 191.1L240.4 187.4L237.9 188.7L235.4 189.9L232.9 188.7L231.7 195.0L231.2 198.6L230.7 195.0L229.2 186.2L226.7 184.9L225.4 190.0L224.9 193.6L224.4 190.0L222.9 182.4L220.4 181.2L219.6 180.5L216.3 181.4L213.0 180.3L210.5 179.5L208.0 181.0L205.5 182.0L203.0 180.0L200.5 181.0L197.3 181.0L194.9 180.0L192.4 181.0L189.9 181.0L187.9 184.0L186.1 186.5L183.6 190.5L180.4 192.0L179.7 203.0L179.2 208.6L178.7 203.0L178.2 193.0L176.1 191.5L173.7 190.0L171.2 189.0L169.2 188.0Z" stroke="#3f55b0" stroke-width="0.5" fill="none" stroke-linejoin="round"/><path d="M218.0 165.0L218.0 157.5" stroke="#6878b8" stroke-width="0.9"/></g>
<rect x="31.6" y="153.6" width="239.70" height="97.00" fill="none" stroke="#939393" stroke-width="1.0"/>
<text x="59.50" y="259.20" font-size="7.5" text-anchor="middle" fill="#111">2012</text>
<text x="91.70" y="259.20" font-size="7.5" text-anchor="middle" fill="#111">2014</text>
<text x="123.90" y="259.20" font-size="7.5" text-anchor="middle" fill="#111">2016</text>
<text x="156.10" y="259.20" font-size="7.5" text-anchor="middle" fill="#111">2018</text>
<text x="188.30" y="259.20" font-size="7.5" text-anchor="middle" fill="#111">2020</text>
<text x="220.50" y="259.20" font-size="7.5" text-anchor="middle" fill="#111">2022</text>
<text x="252.70" y="259.20" font-size="7.5" text-anchor="middle" fill="#111">2024</text>
<text x="29.00" y="175.00" font-size="7.3" text-anchor="end" fill="#111">0.06</text>
<text x="29.00" y="200.10" font-size="7.3" text-anchor="end" fill="#111">0.05</text>
<text x="29.00" y="225.20" font-size="7.3" text-anchor="end" fill="#111">0.04</text>
<text x="29.00" y="250.30" font-size="7.3" text-anchor="end" fill="#111">0.03</text>
<path d="M59.50 250.6v1.6M91.70 250.6v1.6M123.90 250.6v1.6M156.10 250.6v1.6M188.30 250.6v1.6M220.50 250.6v1.6M252.70 250.6v1.6M31.6 171.80h-1.6M31.6 196.90h-1.6M31.6 222.00h-1.6M31.6 247.10h-1.6" stroke="#939393" stroke-width="0.8"/>
<text x="151.45" y="151.30" font-size="7.7" text-anchor="middle" fill="#111">North: Position</text>
<text x="151.45" y="268.90" font-size="7.7" text-anchor="middle" fill="#111">Epoch (years)</text>
<text transform="translate(13.7,202.10) rotate(-90)" font-size="7.7" text-anchor="middle" fill="#111">Value (m)</text>
<rect x="33.7" y="155.6" width="36.5" height="18.1" rx="1" fill="#fff" fill-opacity="0.85" stroke="#d6d6d6" stroke-width="0.7"/><path d="M36.2 160.6H48.1" stroke="#3b44a0" stroke-width="0.8"/><circle cx="42.2" cy="160.6" r="0.7" fill="#3b44a0"/><text x="52.4" y="162.7" font-size="6.1" fill="#222">Data</text><path d="M36.2 168.7H48.1" stroke="#a9c558" stroke-width="1" stroke-dasharray="1.8 1.1"/><text x="52.4" y="170.8" font-size="6.1" fill="#222">Model</text>
<clipPath id="cBR"><rect x="307.0" y="153.6" width="239.79999999999995" height="97.0"/></clipPath>
<path d="M334.40 153.6V250.6M366.60 153.6V250.6M398.80 153.6V250.6M431.00 153.6V250.6M463.20 153.6V250.6M495.40 153.6V250.6M527.60 153.6V250.6M307.0 176.40H546.8M307.0 200.03H546.8M307.0 223.67H546.8M307.0 247.30H546.8" stroke="#dcdcdc" stroke-width="0.8" fill="none"/>
<g clip-path="url(#cBR)"><path d="M317.8 170.0L319.5 172.8L321.0 180.1L321.7 193.0L323.2 200.3L325.0 203.0L326.8 201.2L328.7 199.4L330.5 196.6L332.3 187.5L333.8 185.6L335.1 178.3L336.0 180.1L336.9 189.3L337.8 196.6L339.6 199.4L341.5 193.0L342.9 192.0L344.2 196.6L346.0 199.4L347.9 196.6L349.7 187.5L351.5 185.6L353.4 180.1L355.2 177.4L357.0 173.7L358.3 173.2L359.4 180.1L360.7 189.3L362.5 191.1L364.4 190.2L366.2 189.0L367.8 192.0L369.7 190.2L371.5 191.1L373.3 187.5L375.2 188.4L377.0 189.3L378.8 188.4L380.7 190.2L382.5 188.4L383.4 194.8L384.3 204.0L386.1 207.6L388.0 204.0L388.9 196.6L390.7 183.8L392.6 182.9L394.4 181.1L396.2 178.3L398.1 176.5L399.0 177.4L399.9 198.5L401.7 205.8L403.5 202.1L405.4 187.5L406.7 182.9L408.1 187.5L410.0 182.0L411.4 175.6L412.3 170.0L413.3 174.7L414.5 177.4L415.3 190.0L415.3 193.7L413.7 192.4L411.2 193.7L408.7 197.4L406.2 201.1L405.5 205.7L404.0 213.3L402.6 222.9L401.3 238.1L400.1 246.7L399.4 238.1L398.8 222.9L397.9 210.0L396.2 207.4L393.7 204.9L391.2 208.6L389.3 209.5L388.0 224.8L386.4 229.5L384.5 228.6L383.6 215.2L382.5 206.1L380.0 209.9L378.1 206.1L375.6 207.4L373.1 206.1L370.6 204.9L369.0 208.2L366.2 207.3L363.5 209.2L362.5 222.0L362.0 234.8L361.5 222.0L360.7 207.3L358.0 201.8L356.1 203.7L354.3 205.5L352.5 207.3L350.6 212.8L348.8 218.3L347.0 222.0L345.1 220.1L343.3 218.3L341.5 220.1L340.0 221.5L339.6 223.8L339.3 222.0L338.7 218.3L336.9 211.0L335.1 203.7L333.2 218.3L331.9 224.0L331.4 227.5L330.9 225.0L329.6 222.0L328.2 232.0L327.7 243.0L327.2 232.0L325.9 222.0L324.1 221.0L322.2 218.3L321.0 210.0L319.5 195.0L317.8 183.0ZM444.2 175.0L445.5 188.0L447.3 191.6L449.2 192.5L451.0 191.6L452.8 182.5L454.7 180.6L455.6 191.6L457.4 194.4L459.2 188.0L461.1 183.4L462.9 178.0L463.8 184.3L465.6 191.6L467.5 190.7L469.3 188.9L471.1 189.8L473.0 188.0L475.7 185.2L477.5 176.0L479.4 178.8L481.2 182.5L483.0 181.6L484.9 182.5L486.7 181.6L488.5 184.3L490.4 185.2L493.1 176.0L494.9 177.0L496.6 185.0L497.3 182.0L500.3 176.1L503.2 182.0L506.1 180.5L509.1 183.5L512.0 182.0L514.9 184.9L517.9 183.5L520.8 189.3L523.7 190.8L526.7 193.7L529.6 189.3L532.5 182.0L534.6 184.9L534.6 209.9L532.5 212.8L529.6 217.2L526.7 220.1L524.0 218.5L522.3 220.7L520.1 218.5L517.9 212.6L515.7 214.0L513.5 217.7L512.0 216.3L509.8 213.3L508.3 209.7L507.4 220.0L506.9 230.9L506.4 220.0L505.4 208.9L503.2 206.0L501.0 209.7L500.5 220.0L500.0 229.5L499.5 220.0L498.1 208.9L495.9 206.7L493.7 208.2L492.2 207.5L490.0 203.8L487.5 207.6L483.7 206.7L479.9 208.6L478.0 211.4L477.0 207.6L474.2 205.7L471.3 207.6L469.4 209.5L467.5 219.0L466.7 228.0L466.2 230.5L465.7 228.0L464.7 224.8L462.8 215.2L460.9 211.4L459.0 209.5L457.0 211.4L455.1 219.0L453.7 228.0L453.2 231.4L452.7 228.0L450.4 221.0L448.5 215.2L446.6 207.6L446.6 203.0L444.2 189.9Z" fill="#fdeef7" stroke="#fdeef7" stroke-width="5" stroke-linejoin="round"/><path d="M415.3 192.5L444.4 184.5" stroke="#b9b813" stroke-width="0.8" fill="none"/><path d="M317.8 171.6V178.1M318.3 172.3V184.4M318.8 173.4V187.1M319.3 171.9V193.3M320.3 182.0V203.8M320.8 191.2V202.9M321.3 185.2V212.9M321.8 192.9V215.8M322.3 195.3V216.8M322.8 204.8V217.1M323.3 202.2V216.4M323.8 201.3V211.9M324.3 207.9V217.1M324.8 202.6V221.2M325.8 203.1V215.7M326.3 211.3V217.7M327.3 213.0V231.7M327.8 202.1V241.9M328.3 208.0V231.1M329.3 209.2V217.8M329.8 197.7V223.1M330.8 194.6V221.2M331.3 192.1V219.2M331.8 195.9V225.5M332.3 187.2V222.1M332.8 196.2V219.6M333.3 186.0V216.1M333.8 190.3V214.4M334.3 182.6V209.8M334.8 180.6V205.7M336.3 183.1V204.9M336.8 189.8V201.4M337.3 195.1V206.0M337.8 196.3V208.0M338.3 197.4V216.9M338.8 206.3V219.2M339.3 206.9V218.7M339.8 198.1V223.4M340.3 197.0V216.2M340.8 202.9V217.2M341.3 193.3V214.5M342.3 195.7V210.7M342.8 192.3V208.8M343.3 192.7V218.2M343.8 194.5V219.2M344.3 199.6V219.8M344.8 205.3V210.2M345.3 202.7V217.4M345.8 198.5V221.4M346.3 203.6V212.0M347.3 199.4V216.0M347.8 207.4V221.0M348.3 200.3V210.4M348.8 197.5V211.2M349.3 190.3V211.4M349.8 196.7V213.8M350.3 195.7V210.3M350.8 187.4V208.8M351.3 185.1V206.6M351.8 193.1V203.8M352.3 188.9V204.6M352.8 189.6V207.7M353.3 179.6V202.8M353.8 179.4V200.6M354.3 182.8V195.4M354.8 177.2V204.6M355.3 176.9V204.9M355.8 181.2V202.2M356.3 175.7V198.3M356.8 175.8V194.9M357.3 183.5V201.3M357.8 173.9V202.6M358.3 182.1V193.2M358.8 187.3V203.2M359.3 181.2V204.3M359.8 184.1V201.9M360.3 186.8V200.3M360.8 190.7V209.7M361.8 189.3V221.4M362.3 191.5V217.3M363.3 192.2V212.4M363.8 190.4V209.4M364.8 191.1V205.3M365.3 194.8V200.4M365.8 189.1V206.1M366.3 188.6V205.9M366.8 189.9V207.4M367.3 194.4V206.0M367.8 195.9V207.1M368.3 197.5V208.4M368.8 194.8V208.5M369.3 193.3V201.3M369.8 192.3V201.0M370.3 196.5V204.4M370.8 190.6V201.9M371.3 193.4V202.1M371.8 195.9V199.0M372.3 191.3V201.3M372.8 194.9V200.3M373.3 187.0V205.0M373.8 192.5V204.9M374.8 187.7V201.8M375.3 188.9V202.2M375.8 188.3V205.5M376.3 194.5V203.5M376.8 190.7V199.7M377.8 190.7V206.1M378.3 191.6V204.7M378.8 190.7V207.2M379.3 195.0V201.4M379.8 195.7V201.0M380.3 192.3V209.7M380.8 191.8V206.0M381.8 190.9V206.3M382.3 190.8V204.9M382.8 190.0V206.6M383.3 201.7V205.7M383.8 200.4V218.6M384.3 210.3V217.9M384.8 205.4V229.0M385.3 214.8V229.5M385.8 206.3V229.5M386.3 211.6V229.0M386.8 209.7V228.9M387.3 204.8V224.8M387.8 204.1V223.2M388.3 202.3V220.2M388.8 197.1V215.6M389.3 196.4V207.9M389.8 193.1V203.1M390.3 191.9V202.6M390.8 184.2V208.3M391.3 183.3V197.3M391.8 182.8V207.8M392.3 183.1V207.6M392.8 184.0V199.9M393.3 183.3V200.9M394.3 185.9V196.5M394.8 179.9V203.6M395.3 182.1V201.3M395.8 178.1V207.7M396.8 180.7V204.5M397.3 176.8V209.4M397.8 191.4V197.2M399.3 188.1V222.7M399.8 199.7V238.4M400.3 206.6V246.6M400.8 214.5V242.2M401.3 212.1V236.4M401.8 205.1V229.7M402.8 208.5V217.8M403.3 205.0V217.3M403.8 201.2V208.2M404.3 196.0V205.9M404.8 196.6V204.3M405.3 194.8V200.4M405.8 190.5V199.3M406.3 188.0V201.4M406.8 184.5V200.7M407.3 187.3V197.2M407.8 191.4V196.5M408.3 188.9V196.6M408.8 186.0V192.0M409.3 186.6V193.4M409.8 182.2V193.8M410.3 180.7V194.3M411.3 176.7V194.1M411.8 180.5V191.1M412.3 179.7V190.2M412.8 175.7V187.0M413.8 179.9V193.0M414.3 176.7V191.7M414.8 183.1V191.6M444.2 177.6V187.2M444.7 179.6V192.2M445.2 188.0V193.3M445.7 189.6V196.3M446.2 190.1V201.0M446.7 189.9V202.9M447.7 192.3V211.0M448.2 191.4V214.6M448.7 194.5V216.4M449.2 202.4V217.9M449.7 191.7V218.4M450.2 191.5V214.6M451.2 200.1V221.9M451.7 193.2V222.0M452.2 184.3V217.3M452.7 202.2V219.8M453.2 183.7V221.6M453.7 180.5V228.2M454.2 185.3V212.3M454.7 179.4V209.5M455.2 189.9V218.8M455.7 192.8V210.2M456.2 195.1V214.9M456.7 192.7V212.5M457.2 196.9V211.7M457.7 193.2V210.6M458.2 199.2V208.7M458.7 189.4V202.2M459.2 187.7V204.5M459.7 186.1V210.1M460.2 186.2V210.7M461.7 195.2V198.9M462.2 179.1V213.3M462.7 189.6V208.9M463.2 183.9V214.3M463.7 183.7V205.3M464.2 185.3V221.9M464.7 188.2V210.1M465.2 197.4V218.8M465.7 191.9V228.0M466.2 199.2V231.3M466.7 193.1V228.1M467.2 204.4V218.6M467.7 200.8V206.6M468.2 191.4V212.0M468.7 195.8V209.9M469.2 189.8V205.6M469.7 188.5V204.9M470.2 194.7V201.8M470.7 191.6V203.2M471.2 189.2V207.2M471.7 196.3V203.8M472.2 191.6V207.4M472.7 192.1V205.9M473.2 188.7V206.0M473.7 186.9V206.5M474.2 190.6V201.0M474.7 193.9V205.4M475.7 186.6V207.0M476.2 183.3V207.1M476.7 190.9V208.2M477.2 177.8V208.7M477.7 176.1V197.5M478.2 184.0V211.7M478.7 182.5V200.2M479.2 180.7V199.6M479.7 179.3V205.7M480.2 181.7V203.2M480.7 192.8V205.1M481.2 183.2V202.2M481.7 184.5V206.9M482.2 181.5V207.6M482.7 181.8V207.9M483.2 181.9V197.1M483.7 183.0V198.4M484.2 182.6V207.4M484.7 190.0V203.3M485.2 183.6V203.3M485.7 183.3V206.2M486.2 183.0V200.1M486.7 181.3V207.4M487.2 184.9V208.3M487.7 191.2V200.2M488.2 189.0V206.2M488.7 191.4V199.3M489.2 191.6V205.6M489.7 184.3V204.6M490.2 189.2V203.9M490.7 183.9V204.6M491.2 185.9V206.4M491.7 183.6V204.9M492.2 184.0V199.6M492.7 182.3V205.5M493.2 177.4V206.3M493.7 183.2V208.0M494.2 179.3V197.8M494.7 189.4V201.6M495.2 179.8V202.9M495.7 188.8V207.4M496.7 184.0V208.2M497.7 180.6V203.2M498.2 192.5V197.5M498.7 193.1V214.7M499.2 193.3V214.5M499.7 188.7V221.2M500.2 177.2V225.8M501.2 190.7V195.6M501.7 190.4V207.5M502.2 190.5V203.7M502.7 180.2V207.0M503.2 187.4V198.9M503.7 182.4V205.7M504.2 192.9V205.2M504.7 185.4V205.1M505.2 180.8V207.5M505.7 180.0V208.7M506.2 189.4V217.8M506.7 180.0V216.1M507.2 180.9V219.5M507.7 186.6V215.2M508.2 183.5V198.2M508.7 185.6V208.7M509.2 184.8V212.1M509.7 184.2V212.2M510.2 183.3V213.1M510.7 184.1V211.4M511.2 181.5V209.1M511.7 182.2V206.3M512.2 188.6V217.0M512.7 183.0V206.3M513.2 182.8V211.8M513.7 188.3V214.7M514.2 186.5V203.9M514.7 187.0V214.7M515.2 192.0V214.9M515.7 191.1V211.3M516.2 188.8V207.4M516.7 184.5V214.2M517.2 191.7V211.8M517.7 194.1V213.3M518.2 185.7V212.9M518.7 186.6V215.6M519.7 187.6V218.0M520.2 197.3V217.4M520.7 193.4V207.5M521.2 189.4V209.8M521.7 201.5V216.9M522.2 189.6V209.3M522.7 193.8V212.1M523.2 193.6V209.0M523.7 195.1V219.3M524.2 199.7V214.0M524.7 191.0V216.5M525.2 193.5V219.9M525.7 195.4V216.3M526.2 202.7V216.7M526.7 202.0V219.1M527.2 192.1V212.3M527.7 196.4V207.2M528.2 192.8V211.1M528.7 193.5V211.0M529.2 199.1V212.8M529.7 189.3V217.8M530.2 187.0V204.1M530.7 190.7V216.2M531.2 188.4V215.2M531.7 193.8V201.1M532.2 184.2V207.8M532.7 186.1V206.3M533.2 191.5V204.9M533.7 190.4V209.5M534.2 183.6V206.4" stroke="#b9b813" stroke-width="0.6" fill="none"/><path d="M412.3 178.0L412.3 160.9" stroke="#b9b813" stroke-width="0.9"/><path d="M444.6 188.0L444.6 166.9" stroke="#b9b813" stroke-width="0.9"/><path d="M462.9 184.0L462.9 156.8" stroke="#b9b813" stroke-width="0.9"/><path d="M477.5 180.0L477.5 169.7" stroke="#b9b813" stroke-width="0.9"/><path d="M493.1 180.0L493.1 157.7" stroke="#b9b813" stroke-width="0.9"/><path d="M317.8 175.0V178.2M318.7 175.5V184.7M319.1 175.4V187.8M319.6 178.7V193.6M320.5 183.9V198.1M320.9 186.0V206.0M321.4 194.5V205.2M321.8 202.4V211.3M322.3 200.7V212.3M322.7 202.2V216.4M323.2 206.4V214.3M323.6 206.6V217.4M324.1 205.5V214.3M324.5 204.9V218.8M325.4 207.8V215.1M325.9 206.3V218.3M326.3 209.6V219.2M326.8 204.9V219.6M327.2 212.0V227.6M327.7 216.4V231.2M328.1 204.9V220.1M329.0 201.8V216.6M329.5 207.8V214.3M329.9 204.1V212.8M330.4 202.3V213.2M330.8 199.6V221.2M331.3 198.0V213.9M331.7 196.0V220.5M332.2 193.2V213.6M332.6 193.0V213.1M333.1 194.0V212.2M333.5 196.1V204.7M334.0 190.7V203.6M334.4 189.8V204.1M334.9 185.2V196.7M335.3 185.7V195.7M336.2 187.8V201.5M336.7 191.3V201.3M337.6 199.9V210.6M338.0 201.5V211.3M338.5 199.7V213.3M338.9 201.4V212.1M339.4 206.2V219.0M339.8 204.0V219.4M340.3 202.9V213.8M340.7 202.3V214.3M341.2 203.8V217.1M341.6 202.6V213.2M342.1 200.7V211.9M342.5 197.5V213.6M343.0 202.5V213.3M343.4 199.5V210.0M343.9 201.8V214.8M344.3 199.7V215.6M344.8 205.5V214.2M345.7 201.9V214.8M346.1 207.0V217.2M346.6 202.5V212.5M347.0 200.6V213.7M347.5 202.2V217.5M347.9 199.4V212.4M348.4 201.7V214.4M349.3 197.6V212.7M349.7 197.9V211.1M350.6 190.2V204.3M351.1 193.9V204.5M351.5 194.0V203.1M352.0 189.0V205.3M352.9 185.7V201.1M353.3 187.7V199.6M353.8 185.6V200.5M354.2 187.5V195.5M354.7 188.0V194.5M355.1 181.2V198.8M355.6 186.2V201.1M356.0 184.6V194.5M356.5 179.4V197.0M357.4 180.1V192.4M357.8 179.8V197.0M358.3 182.0V195.6M358.7 185.5V195.9M359.2 185.5V197.0M359.6 188.4V196.4M360.1 191.3V201.3M361.0 194.6V207.8M362.3 204.6V214.6M362.8 199.1V213.2M363.2 196.8V209.8M363.7 195.2V204.2M364.1 192.5V204.3M364.6 195.4V204.9M365.0 195.7V202.9M365.5 192.4V204.1M365.9 192.5V204.1M366.4 194.1V201.3M366.8 196.9V205.7M367.3 195.6V201.5M367.7 196.8V201.7M368.2 193.8V201.8M368.6 193.4V202.2M370.0 195.3V200.0M370.4 194.3V202.6M370.9 196.5V200.9M371.3 193.3V200.7M371.8 192.3V200.3M372.2 192.3V203.8M372.7 191.2V199.2M373.6 193.8V201.3M374.0 194.2V201.1M374.5 194.4V203.0M374.9 193.0V200.1M375.4 195.2V205.0M375.8 194.3V202.0M376.3 191.9V200.9M376.7 191.7V204.3M377.2 196.0V201.6M377.6 193.4V200.4M378.1 193.3V201.3M378.5 194.8V200.5M379.0 194.0V201.2M379.4 196.6V201.4M379.9 194.6V205.5M380.3 194.7V201.7M380.8 192.5V205.4M381.2 196.4V203.6M381.7 194.0V204.2M382.6 196.2V201.0M383.0 195.0V205.7M383.5 201.9V210.0M384.4 208.3V219.7M384.8 213.0V224.0M385.7 212.3V221.7M386.2 214.0V224.7M386.6 209.9V220.7M387.1 208.0V219.7M387.5 211.4V223.3M388.0 210.9V218.8M388.4 207.7V213.9M388.9 199.1V210.9M389.3 197.5V203.3M389.8 195.7V203.8M390.2 191.9V202.0M390.7 189.3V203.8M391.1 186.2V203.6M391.6 186.4V202.0M392.0 192.3V199.3M392.5 191.3V202.3M393.4 186.0V196.2M393.8 190.2V201.0M394.7 188.4V201.5M395.2 190.3V198.3M395.6 190.1V202.8M396.1 187.8V198.1M396.5 185.8V199.7M397.0 181.1V202.0M397.4 188.0V205.0M399.2 201.6V223.8M400.1 208.9V233.6M400.6 211.2V229.7M401.0 216.2V227.8M401.5 215.0V230.1M401.9 213.6V222.0M402.4 211.7V218.0M402.8 208.6V219.2M403.3 207.5V212.3M403.7 203.6V212.5M404.2 201.3V209.8M405.1 194.7V205.3M405.5 192.1V199.3M406.0 188.4V198.0M406.4 188.6V196.8M406.9 185.8V197.4M407.3 186.5V196.2M407.8 190.9V196.9M408.2 188.9V196.2M408.7 188.0V195.5M409.6 185.2V191.2M410.5 182.2V190.0M411.4 181.4V191.7M411.8 176.9V188.3M412.3 172.9V184.8M412.7 179.0V190.0M413.6 177.6V189.5M414.1 178.5V187.0M414.5 181.9V189.3M415.0 186.2V192.5M444.2 180.2V187.6M444.6 181.5V188.5M445.5 189.4V194.4M446.0 192.5V197.2M446.4 194.8V200.5M446.9 197.8V203.0M447.3 195.3V203.3M448.2 199.9V210.9M448.7 196.8V209.6M449.1 201.6V207.9M449.6 202.0V215.4M450.5 201.9V211.1M450.9 202.7V217.1M451.4 202.6V219.6M451.8 192.9V220.0M452.3 197.6V210.4M452.7 194.2V210.1M453.2 194.9V222.9M453.6 190.0V214.7M454.1 190.8V210.5M454.5 190.8V207.9M455.0 189.8V210.0M455.4 199.8V212.7M455.9 194.9V210.2M456.3 197.7V207.0M457.2 199.5V205.3M457.7 198.1V206.9M458.1 194.8V206.8M458.6 194.1V202.5M459.0 194.7V207.3M459.5 193.2V203.0M459.9 193.2V201.4M460.4 190.6V202.4M460.8 192.7V205.4M461.7 185.3V202.5M462.2 188.9V201.5M462.6 187.2V209.4M463.5 186.8V205.1M464.0 196.3V217.1M464.4 199.3V218.7M464.9 194.0V216.2M465.8 200.7V217.0M466.2 202.8V221.1M466.7 199.3V213.3M467.1 202.1V216.4M467.6 194.7V214.6M468.0 195.0V206.8M468.5 196.6V209.8M468.9 196.5V205.4M469.4 192.5V205.8M470.3 197.0V203.4M470.7 193.4V202.1M471.2 192.3V205.7M471.6 195.5V201.6M472.1 192.0V203.6M472.5 194.4V203.6M473.0 191.2V199.4M473.4 194.7V203.0M473.9 192.2V198.7M474.3 189.8V199.2M474.8 191.2V202.1M475.7 193.3V202.3M476.1 189.4V202.9M477.0 189.8V197.1M477.5 187.2V197.8M477.9 183.8V205.7M478.4 187.6V205.3M478.8 182.3V198.9M479.3 186.5V200.8M479.7 183.8V201.3M480.2 190.6V204.3M480.6 185.2V200.6M481.1 185.5V201.7M482.0 188.4V197.7M482.4 191.4V199.2M482.9 186.9V203.8M483.3 185.1V199.6M483.8 188.9V198.6M484.2 186.1V203.1M484.7 192.0V202.6M485.1 187.7V204.1M485.6 187.0V201.1M486.0 189.5V202.9M486.5 188.4V198.9M487.4 190.2V200.9M487.8 189.5V200.3M488.3 191.8V198.9M488.7 190.2V202.5M489.2 191.9V198.3M489.6 187.5V201.4M490.1 189.3V201.0M490.5 188.1V197.2M491.0 191.8V198.1M491.4 185.8V197.4M491.9 186.8V198.3M492.3 187.7V200.1M492.8 186.8V203.5M493.2 186.9V203.4M494.1 181.5V199.8M494.6 181.2V202.1M495.5 188.8V197.9M495.9 186.8V203.5M496.4 193.1V198.3M496.8 190.7V201.7M498.2 191.7V198.1M498.6 188.0V200.9M499.1 190.7V206.1M499.5 187.0V214.5M500.0 186.7V208.6M500.4 181.0V206.4M500.9 186.7V198.8M501.3 189.5V196.8M501.8 182.3V203.2M502.2 187.7V197.3M502.7 190.4V199.8M503.1 185.2V201.1M503.6 189.9V199.0M504.0 189.6V201.9M504.5 191.7V199.8M504.9 191.7V198.5M505.4 191.9V202.9M505.8 189.7V206.3M506.3 185.1V204.9M506.7 191.1V209.8M507.2 191.8V207.3M507.6 187.2V206.9M508.5 190.5V202.3M509.0 187.0V201.2M509.4 194.0V207.5M509.9 192.7V202.0M510.3 188.2V206.8M510.8 190.5V202.2M511.2 187.7V203.0M511.7 189.6V212.5M512.1 188.9V211.7M512.6 190.1V211.7M513.0 196.7V210.2M513.5 189.5V213.4M513.9 187.8V209.1M514.4 194.3V205.1M514.8 189.2V207.3M515.3 190.4V208.2M515.7 194.9V207.3M516.2 192.5V208.5M516.6 188.0V209.1M517.5 193.4V209.2M518.0 194.5V207.9M518.4 193.9V202.6M518.9 194.1V208.5M519.3 190.5V213.0M519.8 192.9V213.2M520.2 192.6V209.8M520.7 195.5V215.8M521.1 195.3V208.5M521.6 198.2V213.4M522.5 193.4V215.1M522.9 199.5V215.3M523.4 199.1V210.5M523.8 200.3V215.7M524.3 194.3V209.5M524.7 199.2V213.2M525.2 195.2V215.3M526.1 196.3V217.0M526.5 198.7V214.5M527.0 198.8V210.4M527.4 196.1V214.8M528.3 198.8V207.7M528.8 199.2V214.0M529.2 196.2V208.3M529.7 200.0V211.0M530.2 198.1V207.8M530.6 193.6V206.4M531.1 193.2V207.7M531.5 190.6V209.0M532.0 192.4V209.0M532.4 188.9V204.4M532.9 191.3V203.1M533.3 186.5V203.2M533.8 189.2V201.1M534.2 187.9V202.9" stroke="#f2a600" stroke-width="0.75" fill="none"/></g>
<rect x="307.0" y="153.6" width="239.80" height="97.00" fill="none" stroke="#939393" stroke-width="1.0"/>
<text x="334.40" y="259.20" font-size="7.5" text-anchor="middle" fill="#111">2012</text>
<text x="366.60" y="259.20" font-size="7.5" text-anchor="middle" fill="#111">2014</text>
<text x="398.80" y="259.20" font-size="7.5" text-anchor="middle" fill="#111">2016</text>
<text x="431.00" y="259.20" font-size="7.5" text-anchor="middle" fill="#111">2018</text>
<text x="463.20" y="259.20" font-size="7.5" text-anchor="middle" fill="#111">2020</text>
<text x="495.40" y="259.20" font-size="7.5" text-anchor="middle" fill="#111">2022</text>
<text x="527.60" y="259.20" font-size="7.5" text-anchor="middle" fill="#111">2024</text>
<text x="304.40" y="179.60" font-size="7.3" text-anchor="end" fill="#111">0.005</text>
<text x="304.40" y="203.23" font-size="7.3" text-anchor="end" fill="#111">0.000</text>
<text x="304.40" y="226.87" font-size="7.3" text-anchor="end" fill="#111"><tspan font-size="5.6" dy="-0.9">−</tspan><tspan dy="0.9">0.005</tspan></text>
<text x="304.40" y="250.50" font-size="7.3" text-anchor="end" fill="#111"><tspan font-size="5.6" dy="-0.9">−</tspan><tspan dy="0.9">0.010</tspan></text>
<path d="M334.40 250.6v1.6M366.60 250.6v1.6M398.80 250.6v1.6M431.00 250.6v1.6M463.20 250.6v1.6M495.40 250.6v1.6M527.60 250.6v1.6M307.0 176.40h-1.6M307.0 200.03h-1.6M307.0 223.67h-1.6M307.0 247.30h-1.6" stroke="#939393" stroke-width="0.8"/>
<text x="426.90" y="151.30" font-size="7.7" text-anchor="middle" fill="#111">North: Residuals</text>
<text x="426.90" y="268.90" font-size="7.7" text-anchor="middle" fill="#111">Epoch (years)</text>
<text transform="translate(281.8,202.10) rotate(-90)" font-size="7.7" text-anchor="middle" fill="#111">Residuals (m)</text>
<rect x="498.2" y="156.0" width="46.3" height="10.4" rx="1" fill="#fff" fill-opacity="0.85" stroke="#d6d6d6" stroke-width="0.7"/><path d="M500.9 160.6H512.9" stroke="#c8c81a" stroke-width="0.9"/><text x="516.6" y="162.7" font-size="6.1" fill="#222">Residuals</text>
</svg>
</body></html>
